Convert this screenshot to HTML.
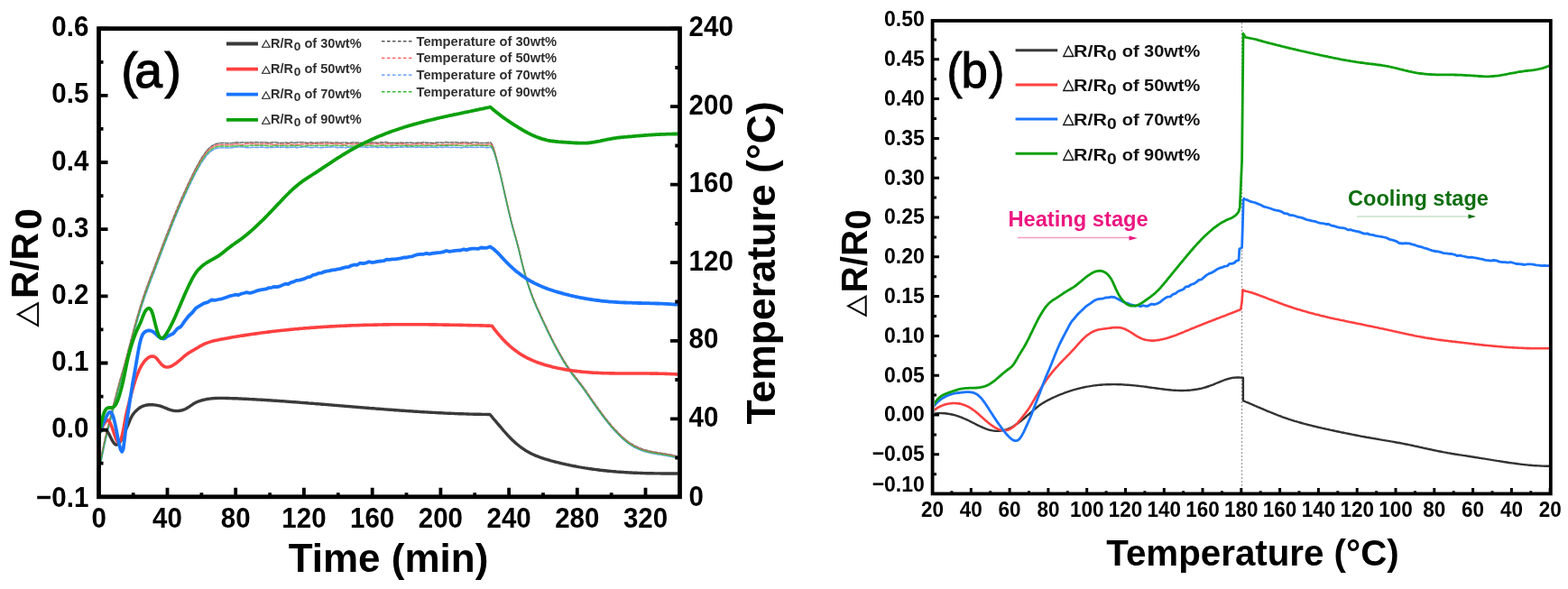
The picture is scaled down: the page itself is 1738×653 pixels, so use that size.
<!DOCTYPE html><html><head><meta charset="utf-8"><title>Figure</title><style>
html,body{margin:0;padding:0;background:#fff;width:1738px;height:653px;overflow:hidden}
svg{display:block}
text{font-family:"Liberation Sans", Arial, sans-serif}
.tri{font-family:"DejaVu Sans",sans-serif;font-weight:normal}
</style></head><body>
<svg width="1738" height="653" viewBox="0 0 1738 653">
<rect width="1738" height="653" fill="#fff"/>
<defs><clipPath id="ca"><rect x="109.5" y="34" width="641.5" height="514"/></clipPath><clipPath id="cb"><rect x="1036" y="25" width="681" height="520"/></clipPath></defs>
<g clip-path="url(#ca)" fill="none" stroke-linejoin="round" stroke-linecap="round">
<path d="M110.6,514.8 L112.1,506.8 L113.6,499.2 L115.1,492.1 L116.6,485.2 L118.1,478.7 L119.7,472.4 L121.2,466.4 L122.7,460.4 L124.2,454.5 L125.7,448.6 L127.2,442.8 L128.7,437.1 L130.2,431.4 L131.7,425.9 L133.2,420.5 L134.7,415.2 L136.3,409.9 L137.8,404.4 L139.3,398.9 L140.8,393.2 L142.3,387.5 L143.8,381.8 L145.3,376.0 L146.8,370.3 L148.3,364.7 L149.8,359.1 L151.3,353.7 L152.9,348.4 L154.4,343.3 L155.9,338.3 L157.4,333.6 L158.9,329.0 L160.4,324.6 L161.9,320.3 L163.4,316.2 L164.9,312.1 L166.4,308.1 L167.9,304.1 L169.5,300.1 L171.0,296.2 L172.5,292.2 L174.0,288.2 L175.5,284.2 L177.0,280.2 L178.5,276.3 L180.0,272.3 L181.5,268.4 L183.0,264.4 L184.5,260.5 L186.1,256.6 L187.6,252.8 L189.1,248.9 L190.6,245.1 L192.1,241.4 L193.6,237.7 L195.1,234.1 L196.6,230.4 L198.1,226.9 L199.6,223.4 L201.1,219.9 L202.7,216.5 L204.2,213.2 L205.7,209.9 L207.2,206.6 L208.7,203.4 L210.2,200.2 L211.7,197.1 L213.2,194.0 L214.7,191.0 L216.2,188.0 L217.7,185.1 L219.3,182.3 L220.8,179.6 L222.3,177.0 L223.8,174.6 L225.3,172.3 L226.8,170.1 L228.3,168.1 L229.8,166.3 L231.3,164.7 L232.8,163.3 L234.3,162.1 L235.9,161.1 L237.4,160.3 L238.9,159.7 L240.4,159.2 L241.9,158.9 L243.4,158.7 L244.9,158.6 L246.4,158.6 L247.9,158.6 L249.4,158.6 L250.9,158.7 L252.5,158.8 L254.0,158.8 L255.5,158.7 L257.0,158.6 L258.5,158.4 L260.0,158.1 L260.0,157.9 L263.0,157.8 L266.0,158.3 L269.0,157.7 L272.0,158.1 L275.0,158.0 L278.0,157.7 L281.0,158.1 L284.0,157.6 L287.0,158.0 L290.0,157.7 L293.0,157.7 L296.0,158.0 L299.0,158.4 L302.0,157.7 L305.0,157.8 L308.0,158.2 L311.0,158.5 L314.0,158.2 L317.0,158.0 L320.0,158.6 L323.0,157.6 L326.0,158.5 L329.0,157.9 L332.0,157.7 L335.0,157.7 L338.0,157.9 L341.0,158.4 L344.0,157.8 L347.0,158.2 L350.0,158.2 L353.0,158.0 L356.0,158.1 L359.0,157.7 L362.0,157.7 L365.0,157.8 L368.0,158.3 L371.0,158.0 L374.0,157.9 L377.0,158.2 L380.0,158.1 L383.0,157.9 L386.0,158.4 L389.0,158.3 L392.0,157.8 L395.0,158.2 L398.0,158.1 L401.0,158.5 L404.0,158.3 L407.0,157.9 L410.0,158.6 L413.0,157.7 L416.0,158.0 L419.0,158.4 L422.0,157.8 L425.0,158.1 L428.0,157.6 L431.0,158.3 L434.0,158.4 L437.0,158.2 L440.0,158.5 L443.0,157.9 L446.0,158.3 L449.0,158.2 L452.0,158.2 L455.0,158.1 L458.0,158.4 L461.0,158.5 L464.0,158.1 L467.0,158.3 L470.0,157.7 L473.0,158.3 L476.0,158.2 L479.0,158.6 L482.0,158.4 L485.0,157.9 L488.0,158.0 L491.0,158.3 L494.0,157.6 L497.0,158.1 L500.0,157.8 L503.0,157.7 L506.0,157.7 L509.0,158.4 L512.0,157.7 L515.0,157.8 L518.0,158.0 L521.0,158.5 L524.0,157.7 L527.0,158.0 L530.0,158.1 L533.0,158.5 L536.0,158.4 L539.0,158.5 L542.0,157.9 L544.0,158.1 L545.5,160.0 L547.0,163.8 L548.5,168.8 L550.0,174.3 L551.5,180.1 L553.0,186.2 L554.6,192.5 L556.1,199.0 L557.6,205.6 L559.1,212.3 L560.6,218.9 L562.1,225.5 L563.6,232.0 L565.1,238.3 L566.6,244.4 L568.1,250.2 L569.6,255.7 L571.1,260.9 L572.6,266.2 L574.1,271.9 L575.7,278.2 L577.2,284.6 L578.7,290.9 L580.2,296.8 L581.7,302.3 L583.2,307.5 L584.7,312.4 L586.2,317.0 L587.7,321.3 L589.2,325.5 L590.7,329.4 L592.2,333.2 L593.7,336.8 L595.2,340.3 L596.8,343.7 L598.3,347.0 L599.8,350.3 L601.3,353.5 L602.8,356.8 L604.3,360.0 L605.8,363.1 L607.3,366.3 L608.8,369.4 L610.3,372.4 L611.8,375.5 L613.3,378.4 L614.8,381.4 L616.3,384.2 L617.9,387.1 L619.4,389.8 L620.9,392.5 L622.4,395.1 L623.9,397.7 L625.4,400.2 L626.9,402.6 L628.4,404.9 L629.9,407.1 L631.4,409.3 L632.9,411.4 L634.4,413.4 L635.9,415.4 L637.4,417.3 L639.0,419.2 L640.5,421.2 L642.0,423.1 L643.5,425.1 L645.0,427.1 L646.5,429.1 L648.0,431.2 L649.5,433.3 L651.0,435.5 L652.5,437.7 L654.0,439.9 L655.5,442.1 L657.0,444.3 L658.6,446.4 L660.1,448.6 L661.6,450.7 L663.1,452.8 L664.6,454.8 L666.1,456.9 L667.6,458.9 L669.1,460.9 L670.6,462.8 L672.1,464.8 L673.6,466.6 L675.1,468.5 L676.6,470.3 L678.1,472.1 L679.7,473.8 L681.2,475.5 L682.7,477.1 L684.2,478.7 L685.7,480.3 L687.2,481.7 L688.7,483.2 L690.2,484.6 L691.7,485.9 L693.2,487.1 L694.7,488.3 L696.2,489.5 L697.7,490.6 L699.2,491.6 L700.8,492.5 L702.3,493.4 L703.8,494.2 L705.3,495.0 L706.8,495.7 L708.3,496.3 L709.8,496.9 L711.3,497.5 L712.8,498.0 L714.3,498.5 L715.8,498.9 L717.3,499.3 L718.8,499.7 L720.3,500.1 L721.9,500.4 L723.4,500.7 L724.9,501.0 L726.4,501.2 L727.9,501.5 L729.4,501.8 L730.9,502.0 L732.4,502.2 L733.9,502.5 L735.4,502.7 L736.9,502.9 L738.4,503.2 L739.9,503.5 L741.4,503.7 L743.0,504.0 L744.5,504.3 L746.0,504.7 L747.5,505.0 L749.0,505.4 L750.5,505.9 L752.0,506.3" stroke="#555555" stroke-width="1.5" stroke-dasharray="4,1.6" opacity="0.85"/>
<path d="M110.6,516.6 L112.1,508.6 L113.6,501.0 L115.1,493.9 L116.6,487.0 L118.1,480.5 L119.7,474.2 L121.2,468.2 L122.7,462.2 L124.2,456.3 L125.7,450.4 L127.2,444.6 L128.7,438.9 L130.2,433.2 L131.7,427.7 L133.2,422.3 L134.7,417.0 L136.3,411.7 L137.8,406.2 L139.3,400.7 L140.8,395.0 L142.3,389.3 L143.8,383.6 L145.3,377.8 L146.8,372.1 L148.3,366.5 L149.8,360.9 L151.3,355.5 L152.9,350.2 L154.4,345.1 L155.9,340.1 L157.4,335.4 L158.9,330.8 L160.4,326.4 L161.9,322.1 L163.4,318.0 L164.9,313.9 L166.4,309.9 L167.9,305.9 L169.5,301.9 L171.0,298.0 L172.5,294.0 L174.0,290.0 L175.5,286.0 L177.0,282.0 L178.5,278.1 L180.0,274.1 L181.5,270.2 L183.0,266.2 L184.5,262.3 L186.1,258.4 L187.6,254.6 L189.1,250.7 L190.6,246.9 L192.1,243.2 L193.6,239.5 L195.1,235.9 L196.6,232.2 L198.1,228.7 L199.6,225.2 L201.1,221.7 L202.7,218.3 L204.2,215.0 L205.7,211.7 L207.2,208.4 L208.7,205.2 L210.2,202.0 L211.7,198.9 L213.2,195.8 L214.7,192.8 L216.2,189.8 L217.7,186.9 L219.3,184.1 L220.8,181.4 L222.3,178.8 L223.8,176.4 L225.3,174.1 L226.8,171.9 L228.3,169.9 L229.8,168.1 L231.3,166.5 L232.8,165.1 L234.3,163.9 L235.9,162.9 L237.4,162.1 L238.9,161.5 L240.4,161.0 L241.9,160.7 L243.4,160.5 L244.9,160.4 L246.4,160.4 L247.9,160.4 L249.4,160.4 L250.9,160.5 L252.5,160.6 L254.0,160.6 L255.5,160.5 L257.0,160.4 L258.5,160.2 L260.0,159.9 L260.0,159.8 L263.0,159.8 L266.0,160.3 L269.0,160.4 L272.0,159.6 L275.0,159.6 L278.0,159.6 L281.0,159.6 L284.0,159.9 L287.0,160.0 L290.0,159.7 L293.0,159.4 L296.0,159.8 L299.0,159.8 L302.0,160.0 L305.0,160.4 L308.0,160.1 L311.0,159.9 L314.0,160.0 L317.0,160.1 L320.0,159.5 L323.0,160.3 L326.0,160.2 L329.0,160.3 L332.0,160.2 L335.0,159.8 L338.0,159.8 L341.0,159.5 L344.0,160.0 L347.0,159.5 L350.0,159.5 L353.0,159.6 L356.0,159.6 L359.0,159.7 L362.0,159.5 L365.0,159.4 L368.0,159.6 L371.0,159.5 L374.0,159.8 L377.0,159.4 L380.0,160.3 L383.0,160.0 L386.0,159.5 L389.0,159.7 L392.0,159.7 L395.0,159.8 L398.0,159.5 L401.0,160.2 L404.0,160.4 L407.0,159.9 L410.0,159.9 L413.0,159.5 L416.0,159.5 L419.0,159.7 L422.0,159.7 L425.0,160.2 L428.0,159.6 L431.0,159.4 L434.0,160.4 L437.0,159.9 L440.0,159.5 L443.0,159.9 L446.0,159.4 L449.0,159.9 L452.0,160.4 L455.0,160.3 L458.0,160.1 L461.0,159.7 L464.0,159.8 L467.0,159.6 L470.0,160.2 L473.0,159.9 L476.0,160.2 L479.0,159.7 L482.0,159.6 L485.0,160.2 L488.0,160.4 L491.0,160.3 L494.0,160.2 L497.0,160.2 L500.0,160.1 L503.0,159.6 L506.0,159.9 L509.0,159.8 L512.0,159.4 L515.0,159.4 L518.0,159.7 L521.0,159.7 L524.0,160.1 L527.0,160.4 L530.0,159.8 L533.0,160.3 L536.0,160.4 L539.0,160.4 L542.0,159.8 L544.0,159.9 L545.5,161.6 L547.0,165.2 L548.5,169.9 L550.0,175.2 L551.5,180.9 L553.0,186.9 L554.6,193.2 L556.1,199.7 L557.6,206.3 L559.1,213.0 L560.6,219.6 L562.1,226.2 L563.6,232.7 L565.1,239.0 L566.6,245.1 L568.1,250.9 L569.6,256.4 L571.1,261.7 L572.6,267.0 L574.1,272.7 L575.7,278.9 L577.2,285.3 L578.7,291.6 L580.2,297.5 L581.7,303.0 L583.2,308.2 L584.7,313.1 L586.2,317.7 L587.7,322.1 L589.2,326.2 L590.7,330.1 L592.2,333.9 L593.7,337.5 L595.2,341.0 L596.8,344.4 L598.3,347.7 L599.8,351.0 L601.3,354.2 L602.8,357.5 L604.3,360.7 L605.8,363.8 L607.3,367.0 L608.8,370.1 L610.3,373.2 L611.8,376.2 L613.3,379.2 L614.8,382.1 L616.3,385.0 L617.9,387.8 L619.4,390.5 L620.9,393.2 L622.4,395.9 L623.9,398.4 L625.4,400.9 L626.9,403.3 L628.4,405.6 L629.9,407.9 L631.4,410.0 L632.9,412.1 L634.4,414.1 L635.9,416.1 L637.4,418.0 L639.0,420.0 L640.5,421.9 L642.0,423.8 L643.5,425.8 L645.0,427.8 L646.5,429.8 L648.0,431.9 L649.5,434.1 L651.0,436.2 L652.5,438.4 L654.0,440.6 L655.5,442.8 L657.0,445.0 L658.6,447.1 L660.1,449.3 L661.6,451.4 L663.1,453.5 L664.6,455.6 L666.1,457.6 L667.6,459.6 L669.1,461.6 L670.6,463.6 L672.1,465.5 L673.6,467.4 L675.1,469.2 L676.6,471.0 L678.1,472.8 L679.7,474.5 L681.2,476.2 L682.7,477.8 L684.2,479.4 L685.7,481.0 L687.2,482.5 L688.7,483.9 L690.2,485.3 L691.7,486.6 L693.2,487.9 L694.7,489.1 L696.2,490.2 L697.7,491.3 L699.2,492.3 L700.8,493.2 L702.3,494.1 L703.8,494.9 L705.3,495.7 L706.8,496.4 L708.3,497.0 L709.8,497.6 L711.3,498.2 L712.8,498.7 L714.3,499.2 L715.8,499.6 L717.3,500.1 L718.8,500.4 L720.3,500.8 L721.9,501.1 L723.4,501.4 L724.9,501.7 L726.4,502.0 L727.9,502.2 L729.4,502.5 L730.9,502.7 L732.4,503.0 L733.9,503.2 L735.4,503.4 L736.9,503.7 L738.4,503.9 L739.9,504.2 L741.4,504.5 L743.0,504.8 L744.5,505.1 L746.0,505.4 L747.5,505.8 L749.0,506.2 L750.5,506.6 L752.0,507.0" stroke="#ff5555" stroke-width="1.5" stroke-dasharray="4,1.6" opacity="0.85"/>
<path d="M110.6,520.0 L112.1,512.0 L113.6,504.4 L115.1,497.3 L116.6,490.4 L118.1,483.9 L119.7,477.6 L121.2,471.6 L122.7,465.6 L124.2,459.7 L125.7,453.8 L127.2,448.0 L128.7,442.3 L130.2,436.6 L131.7,431.1 L133.2,425.7 L134.7,420.4 L136.3,415.1 L137.8,409.6 L139.3,404.1 L140.8,398.4 L142.3,392.7 L143.8,387.0 L145.3,381.2 L146.8,375.5 L148.3,369.9 L149.8,364.3 L151.3,358.9 L152.9,353.6 L154.4,348.5 L155.9,343.5 L157.4,338.8 L158.9,334.2 L160.4,329.8 L161.9,325.5 L163.4,321.4 L164.9,317.3 L166.4,313.3 L167.9,309.3 L169.5,305.3 L171.0,301.4 L172.5,297.4 L174.0,293.4 L175.5,289.4 L177.0,285.4 L178.5,281.5 L180.0,277.5 L181.5,273.6 L183.0,269.6 L184.5,265.7 L186.1,261.8 L187.6,258.0 L189.1,254.1 L190.6,250.3 L192.1,246.6 L193.6,242.9 L195.1,239.3 L196.6,235.6 L198.1,232.1 L199.6,228.6 L201.1,225.1 L202.7,221.7 L204.2,218.4 L205.7,215.1 L207.2,211.8 L208.7,208.6 L210.2,205.4 L211.7,202.3 L213.2,199.2 L214.7,196.2 L216.2,193.2 L217.7,190.3 L219.3,187.5 L220.8,184.8 L222.3,182.2 L223.8,179.8 L225.3,177.5 L226.8,175.3 L228.3,173.3 L229.8,171.5 L231.3,169.9 L232.8,168.5 L234.3,167.3 L235.9,166.3 L237.4,165.5 L238.9,164.9 L240.4,164.4 L241.9,164.1 L243.4,163.9 L244.9,163.8 L246.4,163.8 L247.9,163.8 L249.4,163.8 L250.9,163.9 L252.5,164.0 L254.0,164.0 L255.5,163.9 L257.0,163.8 L258.5,163.6 L260.0,163.3 L260.0,163.0 L263.0,163.0 L266.0,163.0 L269.0,163.0 L272.0,163.4 L275.0,163.7 L278.0,163.6 L281.0,163.3 L284.0,163.5 L287.0,163.6 L290.0,162.9 L293.0,163.5 L296.0,163.7 L299.0,163.6 L302.0,163.6 L305.0,163.3 L308.0,163.0 L311.0,163.6 L314.0,163.1 L317.0,163.6 L320.0,163.8 L323.0,163.2 L326.0,163.2 L329.0,163.7 L332.0,163.5 L335.0,163.0 L338.0,162.9 L341.0,163.0 L344.0,163.7 L347.0,163.6 L350.0,162.9 L353.0,163.6 L356.0,163.8 L359.0,163.5 L362.0,163.2 L365.0,163.3 L368.0,162.9 L371.0,162.8 L374.0,163.8 L377.0,163.4 L380.0,163.3 L383.0,163.7 L386.0,163.2 L389.0,163.7 L392.0,163.6 L395.0,163.0 L398.0,163.1 L401.0,163.1 L404.0,163.0 L407.0,163.4 L410.0,163.1 L413.0,163.2 L416.0,162.9 L419.0,163.7 L422.0,163.2 L425.0,163.3 L428.0,163.4 L431.0,163.7 L434.0,163.2 L437.0,163.7 L440.0,163.3 L443.0,163.3 L446.0,163.3 L449.0,162.8 L452.0,163.2 L455.0,163.0 L458.0,162.8 L461.0,163.6 L464.0,163.0 L467.0,163.3 L470.0,163.5 L473.0,163.4 L476.0,163.1 L479.0,163.3 L482.0,163.4 L485.0,163.6 L488.0,162.9 L491.0,163.4 L494.0,163.0 L497.0,163.1 L500.0,163.6 L503.0,163.3 L506.0,163.4 L509.0,163.6 L512.0,163.7 L515.0,163.2 L518.0,163.4 L521.0,163.3 L524.0,163.3 L527.0,163.5 L530.0,163.3 L533.0,163.3 L536.0,163.3 L539.0,163.7 L542.0,163.5 L544.0,163.3 L545.5,164.6 L547.0,167.7 L548.5,171.9 L550.0,176.9 L551.5,182.4 L553.0,188.3 L554.6,194.6 L556.1,201.1 L557.6,207.7 L559.1,214.3 L560.6,221.0 L562.1,227.6 L563.6,234.0 L565.1,240.3 L566.6,246.4 L568.1,252.3 L569.6,257.8 L571.1,263.1 L572.6,268.4 L574.1,274.1 L575.7,280.3 L577.2,286.7 L578.7,292.9 L580.2,298.8 L581.7,304.3 L583.2,309.5 L584.7,314.4 L586.2,319.1 L587.7,323.4 L589.2,327.6 L590.7,331.5 L592.2,335.3 L593.7,338.9 L595.2,342.4 L596.8,345.8 L598.3,349.1 L599.8,352.4 L601.3,355.6 L602.8,358.8 L604.3,362.0 L605.8,365.2 L607.3,368.3 L608.8,371.4 L610.3,374.5 L611.8,377.5 L613.3,380.5 L614.8,383.4 L616.3,386.3 L617.9,389.1 L619.4,391.9 L620.9,394.6 L622.4,397.2 L623.9,399.8 L625.4,402.3 L626.9,404.7 L628.4,407.0 L629.9,409.2 L631.4,411.4 L632.9,413.5 L634.4,415.5 L635.9,417.5 L637.4,419.4 L639.0,421.3 L640.5,423.3 L642.0,425.2 L643.5,427.1 L645.0,429.1 L646.5,431.2 L648.0,433.3 L649.5,435.4 L651.0,437.6 L652.5,439.8 L654.0,442.0 L655.5,444.2 L657.0,446.3 L658.6,448.5 L660.1,450.6 L661.6,452.8 L663.1,454.8 L664.6,456.9 L666.1,459.0 L667.6,461.0 L669.1,463.0 L670.6,464.9 L672.1,466.8 L673.6,468.7 L675.1,470.6 L676.6,472.4 L678.1,474.2 L679.7,475.9 L681.2,477.6 L682.7,479.2 L684.2,480.8 L685.7,482.3 L687.2,483.8 L688.7,485.3 L690.2,486.6 L691.7,488.0 L693.2,489.2 L694.7,490.4 L696.2,491.6 L697.7,492.6 L699.2,493.6 L700.8,494.6 L702.3,495.5 L703.8,496.3 L705.3,497.0 L706.8,497.7 L708.3,498.4 L709.8,499.0 L711.3,499.6 L712.8,500.1 L714.3,500.6 L715.8,501.0 L717.3,501.4 L718.8,501.8 L720.3,502.1 L721.9,502.5 L723.4,502.8 L724.9,503.1 L726.4,503.3 L727.9,503.6 L729.4,503.8 L730.9,504.1 L732.4,504.3 L733.9,504.5 L735.4,504.8 L736.9,505.0 L738.4,505.3 L739.9,505.5 L741.4,505.8 L743.0,506.1 L744.5,506.4 L746.0,506.8 L747.5,507.1 L749.0,507.5 L750.5,507.9 L752.0,508.4" stroke="#4d8cff" stroke-width="1.5" stroke-dasharray="4,1.6" opacity="0.85"/>
<path d="M110.6,518.3 L112.1,510.3 L113.6,502.7 L115.1,495.6 L116.6,488.7 L118.1,482.2 L119.7,475.9 L121.2,469.9 L122.7,463.9 L124.2,458.0 L125.7,452.1 L127.2,446.3 L128.7,440.6 L130.2,434.9 L131.7,429.4 L133.2,424.0 L134.7,418.7 L136.3,413.4 L137.8,407.9 L139.3,402.4 L140.8,396.7 L142.3,391.0 L143.8,385.3 L145.3,379.5 L146.8,373.8 L148.3,368.2 L149.8,362.6 L151.3,357.2 L152.9,351.9 L154.4,346.8 L155.9,341.8 L157.4,337.1 L158.9,332.5 L160.4,328.1 L161.9,323.8 L163.4,319.7 L164.9,315.6 L166.4,311.6 L167.9,307.6 L169.5,303.6 L171.0,299.7 L172.5,295.7 L174.0,291.7 L175.5,287.7 L177.0,283.7 L178.5,279.8 L180.0,275.8 L181.5,271.9 L183.0,267.9 L184.5,264.0 L186.1,260.1 L187.6,256.3 L189.1,252.4 L190.6,248.6 L192.1,244.9 L193.6,241.2 L195.1,237.6 L196.6,233.9 L198.1,230.4 L199.6,226.9 L201.1,223.4 L202.7,220.0 L204.2,216.7 L205.7,213.4 L207.2,210.1 L208.7,206.9 L210.2,203.7 L211.7,200.6 L213.2,197.5 L214.7,194.5 L216.2,191.5 L217.7,188.6 L219.3,185.8 L220.8,183.1 L222.3,180.5 L223.8,178.1 L225.3,175.8 L226.8,173.6 L228.3,171.6 L229.8,169.8 L231.3,168.2 L232.8,166.8 L234.3,165.6 L235.9,164.6 L237.4,163.8 L238.9,163.2 L240.4,162.7 L241.9,162.4 L243.4,162.2 L244.9,162.1 L246.4,162.1 L247.9,162.1 L249.4,162.1 L250.9,162.2 L252.5,162.3 L254.0,162.3 L255.5,162.2 L257.0,162.1 L258.5,161.9 L260.0,161.6 L260.0,162.0 L263.0,162.0 L266.0,161.4 L269.0,161.7 L272.0,162.0 L275.0,161.9 L278.0,161.2 L281.0,161.2 L284.0,161.5 L287.0,161.2 L290.0,161.3 L293.0,161.2 L296.0,161.8 L299.0,161.9 L302.0,162.0 L305.0,161.3 L308.0,161.8 L311.0,161.8 L314.0,161.2 L317.0,162.0 L320.0,162.1 L323.0,161.3 L326.0,162.1 L329.0,161.5 L332.0,161.6 L335.0,162.1 L338.0,161.9 L341.0,161.3 L344.0,161.5 L347.0,161.6 L350.0,161.4 L353.0,161.3 L356.0,161.4 L359.0,161.8 L362.0,161.1 L365.0,161.7 L368.0,161.5 L371.0,161.1 L374.0,161.4 L377.0,161.7 L380.0,161.6 L383.0,161.2 L386.0,162.1 L389.0,161.9 L392.0,162.1 L395.0,161.2 L398.0,161.4 L401.0,161.1 L404.0,161.9 L407.0,161.4 L410.0,161.2 L413.0,161.5 L416.0,162.0 L419.0,161.9 L422.0,161.4 L425.0,161.2 L428.0,162.0 L431.0,161.7 L434.0,161.8 L437.0,161.2 L440.0,161.2 L443.0,161.8 L446.0,161.5 L449.0,161.2 L452.0,162.0 L455.0,161.7 L458.0,161.9 L461.0,161.2 L464.0,162.0 L467.0,161.2 L470.0,162.0 L473.0,161.6 L476.0,161.4 L479.0,161.7 L482.0,162.0 L485.0,161.4 L488.0,161.2 L491.0,161.6 L494.0,161.3 L497.0,161.2 L500.0,161.3 L503.0,161.2 L506.0,161.3 L509.0,161.4 L512.0,161.4 L515.0,161.9 L518.0,161.4 L521.0,161.6 L524.0,161.3 L527.0,161.4 L530.0,161.1 L533.0,161.4 L536.0,161.1 L539.0,161.8 L542.0,161.7 L544.0,161.6 L545.5,163.1 L547.0,166.4 L548.5,170.9 L550.0,176.0 L551.5,181.6 L553.0,187.6 L554.6,193.9 L556.1,200.4 L557.6,207.0 L559.1,213.7 L560.6,220.3 L562.1,226.9 L563.6,233.4 L565.1,239.7 L566.6,245.8 L568.1,251.6 L569.6,257.1 L571.1,262.4 L572.6,267.7 L574.1,273.4 L575.7,279.6 L577.2,286.0 L578.7,292.3 L580.2,298.1 L581.7,303.7 L583.2,308.9 L584.7,313.8 L586.2,318.4 L587.7,322.8 L589.2,326.9 L590.7,330.8 L592.2,334.6 L593.7,338.2 L595.2,341.7 L596.8,345.1 L598.3,348.4 L599.8,351.7 L601.3,354.9 L602.8,358.1 L604.3,361.3 L605.8,364.5 L607.3,367.7 L608.8,370.8 L610.3,373.8 L611.8,376.9 L613.3,379.8 L614.8,382.8 L616.3,385.6 L617.9,388.5 L619.4,391.2 L620.9,393.9 L622.4,396.5 L623.9,399.1 L625.4,401.6 L626.9,404.0 L628.4,406.3 L629.9,408.6 L631.4,410.7 L632.9,412.8 L634.4,414.8 L635.9,416.8 L637.4,418.7 L639.0,420.7 L640.5,422.6 L642.0,424.5 L643.5,426.5 L645.0,428.5 L646.5,430.5 L648.0,432.6 L649.5,434.7 L651.0,436.9 L652.5,439.1 L654.0,441.3 L655.5,443.5 L657.0,445.7 L658.6,447.8 L660.1,450.0 L661.6,452.1 L663.1,454.2 L664.6,456.2 L666.1,458.3 L667.6,460.3 L669.1,462.3 L670.6,464.2 L672.1,466.2 L673.6,468.1 L675.1,469.9 L676.6,471.7 L678.1,473.5 L679.7,475.2 L681.2,476.9 L682.7,478.5 L684.2,480.1 L685.7,481.7 L687.2,483.1 L688.7,484.6 L690.2,486.0 L691.7,487.3 L693.2,488.5 L694.7,489.7 L696.2,490.9 L697.7,491.9 L699.2,493.0 L700.8,493.9 L702.3,494.8 L703.8,495.6 L705.3,496.4 L706.8,497.1 L708.3,497.7 L709.8,498.3 L711.3,498.9 L712.8,499.4 L714.3,499.9 L715.8,500.3 L717.3,500.7 L718.8,501.1 L720.3,501.5 L721.9,501.8 L723.4,502.1 L724.9,502.4 L726.4,502.6 L727.9,502.9 L729.4,503.2 L730.9,503.4 L732.4,503.6 L733.9,503.9 L735.4,504.1 L736.9,504.3 L738.4,504.6 L739.9,504.9 L741.4,505.1 L743.0,505.4 L744.5,505.7 L746.0,506.1 L747.5,506.4 L749.0,506.8 L750.5,507.3 L752.0,507.7" stroke="#33b833" stroke-width="1.5" stroke-dasharray="4,1.6" opacity="0.85"/>
<path d="M110.8,478.6 L112.3,477.7 L113.8,476.9 L115.3,476.4 L116.8,476.6 L118.3,477.6 L119.8,479.6 L121.3,482.2 L122.8,485.2 L124.3,488.2 L125.8,490.7 L127.3,492.4 L128.8,493.1 L130.3,492.9 L131.8,491.7 L133.3,489.7 L134.8,486.9 L136.3,483.7 L137.8,480.3 L139.3,476.9 L140.8,473.6 L142.3,470.1 L143.8,466.3 L145.3,463.0 L146.8,460.3 L148.3,458.2 L149.8,456.5 L151.3,455.0 L152.8,453.7 L154.3,452.5 L155.8,451.5 L157.3,450.7 L158.8,450.1 L160.3,449.6 L161.8,449.2 L163.3,449.0 L164.8,448.8 L166.3,448.7 L167.8,448.8 L169.3,448.8 L170.8,448.9 L172.3,449.1 L173.8,449.3 L175.3,449.6 L176.8,449.9 L178.3,450.4 L179.8,450.9 L181.3,451.5 L182.8,452.1 L184.3,452.7 L185.8,453.3 L187.3,453.9 L188.8,454.4 L190.3,454.8 L191.8,455.2 L193.3,455.4 L194.8,455.5 L196.3,455.6 L197.8,455.5 L199.3,455.3 L200.8,455.1 L202.3,454.6 L203.8,454.1 L205.3,453.5 L206.8,452.7 L208.3,451.8 L209.8,450.8 L211.3,449.8 L212.8,448.8 L214.3,447.8 L215.8,446.9 L217.3,446.1 L218.8,445.5 L220.4,444.9 L221.9,444.3 L223.4,443.9 L224.9,443.5 L226.4,443.1 L227.9,442.8 L229.4,442.5 L230.9,442.3 L232.4,442.1 L233.9,441.9 L235.4,441.7 L236.9,441.6 L238.4,441.5 L239.9,441.5 L241.4,441.4 L242.9,441.4 L244.4,441.4 L245.9,441.4 L247.4,441.4 L248.9,441.4 L250.4,441.5 L251.9,441.5 L253.4,441.5 L254.9,441.6 L256.4,441.6 L257.9,441.7 L259.4,441.7 L260.9,441.8 L262.4,441.8 L263.9,441.9 L265.4,442.0 L266.9,442.0 L268.4,442.1 L269.9,442.2 L271.4,442.2 L272.9,442.3 L274.4,442.4 L275.9,442.5 L277.4,442.6 L278.9,442.6 L280.4,442.7 L281.9,442.8 L283.4,442.9 L284.9,443.0 L286.4,443.1 L287.9,443.1 L289.4,443.2 L290.9,443.3 L292.4,443.4 L293.9,443.5 L295.4,443.6 L296.9,443.7 L298.4,443.8 L299.9,443.9 L301.4,444.0 L302.9,444.1 L304.4,444.2 L305.9,444.3 L307.4,444.4 L308.9,444.5 L310.4,444.6 L311.9,444.7 L313.4,444.8 L314.9,444.9 L316.4,445.0 L317.9,445.1 L319.4,445.2 L320.9,445.4 L322.4,445.5 L323.9,445.6 L325.4,445.7 L326.9,445.8 L328.4,445.9 L329.9,446.0 L331.4,446.1 L332.9,446.3 L334.4,446.4 L335.9,446.5 L337.4,446.6 L338.9,446.7 L340.4,446.8 L341.9,447.0 L343.4,447.1 L344.9,447.2 L346.4,447.3 L347.9,447.4 L349.4,447.6 L350.9,447.7 L352.4,447.8 L353.9,447.9 L355.4,448.0 L356.9,448.2 L358.4,448.3 L359.9,448.4 L361.4,448.5 L362.9,448.6 L364.4,448.8 L365.9,448.9 L367.4,449.0 L368.9,449.1 L370.4,449.3 L371.9,449.4 L373.4,449.5 L374.9,449.6 L376.4,449.8 L377.9,449.9 L379.4,450.0 L380.9,450.1 L382.4,450.3 L383.9,450.4 L385.4,450.5 L386.9,450.6 L388.4,450.7 L389.9,450.9 L391.4,451.0 L392.9,451.1 L394.4,451.2 L395.9,451.4 L397.4,451.5 L398.9,451.6 L400.4,451.7 L401.9,451.9 L403.4,452.0 L404.9,452.1 L406.4,452.2 L407.9,452.3 L409.4,452.5 L410.9,452.6 L412.4,452.7 L413.9,452.8 L415.4,452.9 L416.9,453.1 L418.4,453.2 L419.9,453.3 L421.4,453.4 L422.9,453.5 L424.4,453.6 L425.9,453.8 L427.4,453.9 L428.9,454.0 L430.4,454.1 L431.9,454.2 L433.4,454.3 L434.9,454.4 L436.5,454.5 L438.0,454.7 L439.5,454.8 L441.0,454.9 L442.5,455.0 L444.0,455.1 L445.5,455.2 L447.0,455.3 L448.5,455.4 L450.0,455.5 L451.5,455.6 L453.0,455.7 L454.5,455.8 L456.0,455.9 L457.5,456.0 L459.0,456.1 L460.5,456.2 L462.0,456.3 L463.5,456.4 L465.0,456.5 L466.5,456.6 L468.0,456.7 L469.5,456.8 L471.0,456.9 L472.5,456.9 L474.0,457.0 L475.5,457.1 L477.0,457.2 L478.5,457.3 L480.0,457.4 L481.5,457.4 L483.0,457.5 L484.5,457.6 L486.0,457.7 L487.5,457.8 L489.0,457.8 L490.5,457.9 L492.0,458.0 L493.5,458.1 L495.0,458.1 L496.5,458.2 L498.0,458.3 L499.5,458.3 L501.0,458.4 L502.5,458.4 L504.0,458.5 L505.5,458.6 L507.0,458.6 L508.5,458.7 L510.0,458.7 L511.5,458.8 L513.0,458.8 L514.5,458.9 L516.0,458.9 L517.5,459.0 L519.0,459.0 L520.5,459.1 L522.0,459.1 L523.5,459.1 L525.0,459.2 L526.5,459.2 L528.0,459.3 L529.5,459.3 L531.0,459.3 L532.5,459.3 L534.0,459.4 L535.5,459.4 L537.0,459.4 L538.5,459.4 L540.0,459.5 L541.5,459.5 L543.0,459.5 L543.0,459.5 L544.5,461.2 L546.0,463.0 L547.5,464.8 L549.0,466.5 L550.5,468.3 L552.0,470.2 L553.6,472.0 L555.1,473.7 L556.6,475.5 L558.1,477.3 L559.6,479.0 L561.1,480.7 L562.6,482.3 L564.1,483.9 L565.6,485.5 L567.1,487.0 L568.6,488.4 L570.1,489.9 L571.6,491.2 L573.1,492.5 L574.7,493.8 L576.2,495.0 L577.7,496.1 L579.2,497.2 L580.7,498.2 L582.2,499.2 L583.7,500.1 L585.2,500.9 L586.7,501.8 L588.2,502.6 L589.7,503.3 L591.2,504.0 L592.7,504.7 L594.2,505.3 L595.8,505.9 L597.3,506.5 L598.8,507.1 L600.3,507.6 L601.8,508.1 L603.3,508.6 L604.8,509.0 L606.3,509.5 L607.8,509.9 L609.3,510.3 L610.8,510.8 L612.3,511.2 L613.8,511.6 L615.3,512.0 L616.9,512.4 L618.4,512.7 L619.9,513.1 L621.4,513.5 L622.9,513.8 L624.4,514.2 L625.9,514.5 L627.4,514.9 L628.9,515.2 L630.4,515.5 L631.9,515.8 L633.4,516.1 L634.9,516.5 L636.4,516.7 L638.0,517.0 L639.5,517.3 L641.0,517.6 L642.5,517.9 L644.0,518.1 L645.5,518.4 L647.0,518.6 L648.5,518.9 L650.0,519.1 L651.5,519.3 L653.0,519.6 L654.5,519.8 L656.0,520.0 L657.6,520.2 L659.1,520.4 L660.6,520.6 L662.1,520.8 L663.6,521.0 L665.1,521.2 L666.6,521.4 L668.1,521.5 L669.6,521.7 L671.1,521.8 L672.6,522.0 L674.1,522.2 L675.6,522.3 L677.1,522.4 L678.7,522.6 L680.2,522.7 L681.7,522.8 L683.2,523.0 L684.7,523.1 L686.2,523.2 L687.7,523.3 L689.2,523.4 L690.7,523.5 L692.2,523.6 L693.7,523.7 L695.2,523.8 L696.7,523.9 L698.2,524.0 L699.8,524.0 L701.3,524.1 L702.8,524.2 L704.3,524.2 L705.8,524.3 L707.3,524.4 L708.8,524.4 L710.3,524.5 L711.8,524.5 L713.3,524.6 L714.8,524.6 L716.3,524.7 L717.8,524.7 L719.3,524.7 L720.9,524.8 L722.4,524.8 L723.9,524.8 L725.4,524.9 L726.9,524.9 L728.4,524.9 L729.9,524.9 L731.4,524.9 L732.9,525.0 L734.4,525.0 L735.9,525.0 L737.4,525.0 L738.9,525.0 L740.4,525.0 L742.0,525.0 L743.5,525.0 L745.0,525.0 L746.5,525.0 L748.0,525.0 L749.5,525.0 L751.0,525.0" stroke="#3a3a3a" stroke-width="3.4"/>
<path d="M110.8,478.6 L112.3,475.3 L113.8,472.5 L115.3,469.9 L116.8,467.7 L118.3,466.0 L119.8,465.8 L121.3,467.4 L122.8,470.4 L124.3,474.2 L125.8,478.6 L127.3,483.0 L128.8,487.0 L130.3,490.0 L131.8,490.8 L133.4,488.5 L134.9,484.4 L136.4,478.2 L137.9,470.0 L139.4,461.8 L140.9,455.0 L142.4,448.9 L143.9,443.0 L145.4,437.2 L146.9,431.7 L148.4,426.5 L149.9,421.6 L151.4,417.3 L152.9,413.4 L154.4,410.0 L155.9,407.0 L157.4,404.4 L158.9,402.2 L160.4,400.2 L161.9,398.6 L163.4,397.3 L164.9,396.2 L166.4,395.5 L167.9,395.1 L169.4,395.0 L170.9,395.3 L172.4,396.2 L173.9,397.7 L175.4,399.6 L177.0,401.6 L178.5,403.4 L180.0,404.9 L181.5,406.0 L183.0,406.7 L184.5,407.0 L186.0,407.0 L187.5,406.8 L189.0,406.3 L190.5,405.7 L192.0,404.8 L193.5,403.8 L195.0,402.8 L196.5,401.6 L198.0,400.3 L199.5,399.1 L201.0,397.8 L202.5,396.5 L204.0,395.2 L205.5,394.0 L207.0,392.8 L208.5,391.8 L210.0,390.8 L211.5,389.9 L213.0,389.0 L214.5,388.2 L216.0,387.3 L217.5,386.4 L219.0,385.5 L220.6,384.6 L222.1,383.6 L223.6,382.8 L225.1,382.0 L226.6,381.3 L228.1,380.7 L229.6,380.1 L231.1,379.6 L232.6,379.1 L234.1,378.6 L235.6,378.2 L237.1,377.8 L238.6,377.5 L240.1,377.2 L241.6,376.9 L243.1,376.6 L244.6,376.3 L246.1,376.0 L247.6,375.7 L249.1,375.4 L250.6,375.2 L252.1,374.9 L253.6,374.6 L255.1,374.4 L256.6,374.1 L258.1,373.8 L259.6,373.6 L261.1,373.3 L262.6,373.1 L264.2,372.8 L265.7,372.6 L267.2,372.3 L268.7,372.1 L270.2,371.9 L271.7,371.6 L273.2,371.4 L274.7,371.2 L276.2,370.9 L277.7,370.7 L279.2,370.5 L280.7,370.3 L282.2,370.1 L283.7,369.9 L285.2,369.7 L286.7,369.4 L288.2,369.2 L289.7,369.0 L291.2,368.8 L292.7,368.6 L294.2,368.5 L295.7,368.3 L297.2,368.1 L298.7,367.9 L300.2,367.7 L301.7,367.5 L303.2,367.3 L304.7,367.2 L306.2,367.0 L307.8,366.8 L309.3,366.7 L310.8,366.5 L312.3,366.3 L313.8,366.2 L315.3,366.0 L316.8,365.9 L318.3,365.7 L319.8,365.6 L321.3,365.4 L322.8,365.3 L324.3,365.1 L325.8,365.0 L327.3,364.8 L328.8,364.7 L330.3,364.6 L331.8,364.4 L333.3,364.3 L334.8,364.2 L336.3,364.0 L337.8,363.9 L339.3,363.8 L340.8,363.7 L342.3,363.6 L343.8,363.4 L345.3,363.3 L346.8,363.2 L348.3,363.1 L349.9,363.0 L351.4,362.9 L352.9,362.8 L354.4,362.7 L355.9,362.6 L357.4,362.5 L358.9,362.4 L360.4,362.3 L361.9,362.2 L363.4,362.1 L364.9,362.0 L366.4,361.9 L367.9,361.9 L369.4,361.8 L370.9,361.7 L372.4,361.6 L373.9,361.5 L375.4,361.5 L376.9,361.4 L378.4,361.3 L379.9,361.3 L381.4,361.2 L382.9,361.1 L384.4,361.1 L385.9,361.0 L387.4,360.9 L388.9,360.9 L390.4,360.8 L391.9,360.8 L393.5,360.7 L395.0,360.7 L396.5,360.6 L398.0,360.6 L399.5,360.5 L401.0,360.5 L402.5,360.4 L404.0,360.4 L405.5,360.3 L407.0,360.3 L408.5,360.3 L410.0,360.2 L411.5,360.2 L413.0,360.2 L414.5,360.1 L416.0,360.1 L417.5,360.1 L419.0,360.0 L420.5,360.0 L422.0,360.0 L423.5,360.0 L425.0,359.9 L426.5,359.9 L428.0,359.9 L429.5,359.9 L431.0,359.9 L432.5,359.8 L434.0,359.8 L435.5,359.8 L437.1,359.8 L438.6,359.8 L440.1,359.8 L441.6,359.8 L443.1,359.8 L444.6,359.8 L446.1,359.8 L447.6,359.7 L449.1,359.7 L450.6,359.7 L452.1,359.7 L453.6,359.7 L455.1,359.7 L456.6,359.7 L458.1,359.7 L459.6,359.8 L461.1,359.8 L462.6,359.8 L464.1,359.8 L465.6,359.8 L467.1,359.8 L468.6,359.8 L470.1,359.8 L471.6,359.8 L473.1,359.8 L474.6,359.8 L476.1,359.9 L477.6,359.9 L479.1,359.9 L480.7,359.9 L482.2,359.9 L483.7,359.9 L485.2,360.0 L486.7,360.0 L488.2,360.0 L489.7,360.0 L491.2,360.1 L492.7,360.1 L494.2,360.1 L495.7,360.1 L497.2,360.1 L498.7,360.2 L500.2,360.2 L501.7,360.2 L503.2,360.3 L504.7,360.3 L506.2,360.3 L507.7,360.3 L509.2,360.4 L510.7,360.4 L512.2,360.4 L513.7,360.5 L515.2,360.5 L516.7,360.5 L518.2,360.6 L519.7,360.6 L521.2,360.6 L522.7,360.7 L524.3,360.7 L525.8,360.7 L527.3,360.8 L528.8,360.8 L530.3,360.8 L531.8,360.9 L533.3,360.9 L534.8,360.9 L536.3,361.0 L537.8,361.0 L539.3,361.1 L540.8,361.1 L542.3,361.1 L543.8,361.2 L545.3,361.2 L545.3,361.2 L546.8,363.3 L548.3,365.3 L549.8,367.2 L551.3,369.1 L552.8,370.9 L554.3,372.6 L555.8,374.3 L557.3,376.0 L558.8,377.5 L560.3,379.1 L561.8,380.5 L563.3,381.9 L564.8,383.3 L566.3,384.6 L567.8,385.8 L569.3,387.1 L570.8,388.2 L572.3,389.3 L573.8,390.4 L575.3,391.4 L576.8,392.4 L578.3,393.4 L579.8,394.3 L581.3,395.1 L582.8,396.0 L584.3,396.8 L585.8,397.5 L587.3,398.2 L588.8,398.9 L590.3,399.6 L591.8,400.2 L593.3,400.9 L594.8,401.4 L596.3,402.0 L597.9,402.5 L599.4,403.0 L600.9,403.5 L602.4,404.0 L603.9,404.5 L605.4,404.9 L606.9,405.3 L608.4,405.7 L609.9,406.1 L611.4,406.5 L612.9,406.9 L614.4,407.2 L615.9,407.6 L617.4,407.9 L618.9,408.2 L620.4,408.5 L621.9,408.8 L623.4,409.1 L624.9,409.4 L626.4,409.6 L627.9,409.9 L629.4,410.1 L630.9,410.4 L632.4,410.6 L633.9,410.8 L635.4,411.0 L636.9,411.2 L638.4,411.4 L639.9,411.6 L641.4,411.8 L642.9,411.9 L644.4,412.1 L645.9,412.2 L647.4,412.4 L648.9,412.5 L650.4,412.6 L651.9,412.8 L653.4,412.9 L654.9,413.0 L656.4,413.1 L657.9,413.2 L659.4,413.2 L660.9,413.3 L662.4,413.4 L663.9,413.5 L665.4,413.5 L666.9,413.6 L668.4,413.7 L669.9,413.7 L671.4,413.7 L672.9,413.8 L674.4,413.8 L675.9,413.9 L677.4,413.9 L678.9,413.9 L680.4,413.9 L681.9,414.0 L683.4,414.0 L684.9,414.0 L686.4,414.0 L687.9,414.0 L689.4,414.0 L690.9,414.0 L692.4,414.0 L693.9,414.0 L695.4,414.0 L696.9,414.0 L698.4,414.0 L700.0,414.0 L701.5,414.0 L703.0,414.0 L704.5,414.0 L706.0,414.0 L707.5,414.0 L709.0,414.0 L710.5,414.0 L712.0,414.0 L713.5,414.0 L715.0,414.0 L716.5,414.0 L718.0,414.0 L719.5,414.0 L721.0,414.1 L722.5,414.1 L724.0,414.1 L725.5,414.1 L727.0,414.1 L728.5,414.1 L730.0,414.2 L731.5,414.2 L733.0,414.2 L734.5,414.3 L736.0,414.3 L737.5,414.4 L739.0,414.4 L740.5,414.5 L742.0,414.5 L743.5,414.6 L745.0,414.7 L746.5,414.7 L748.0,414.8 L749.5,414.9 L751.0,415.0" stroke="#ff4040" stroke-width="3.6"/>
<path d="M110.8,478.6 L112.3,474.5 L113.8,470.9 L115.4,467.5 L116.9,464.3 L118.4,461.0 L119.9,458.3 L121.4,456.8 L122.9,457.1 L124.5,459.3 L126.0,463.5 L127.5,469.6 L129.0,476.9 L130.5,484.9 L132.1,492.4 L133.6,498.2 L135.1,500.8 L136.6,498.1 L138.1,486.7 L139.7,473.1 L141.2,462.7 L142.7,452.9 L144.2,442.9 L145.7,433.2 L147.2,424.1 L148.8,415.4 L150.3,406.8 L151.8,397.9 L153.3,389.2 L154.8,381.3 L156.4,375.1 L157.9,371.2 L159.4,369.1 L160.9,367.8 L162.4,367.0 L164.0,366.5 L165.5,366.4 L167.0,366.6 L168.5,367.2 L170.0,368.0 L171.5,369.2 L173.1,370.6 L174.6,372.1 L176.1,373.5 L177.6,374.5 L179.1,375.2 L180.7,375.5 L182.2,375.3 L183.7,374.4 L183.7,373.9 L187.9,371.7 L192.1,369.7 L196.3,364.6 L200.6,362.0 L204.8,355.9 L209.0,350.5 L213.2,346.5 L217.4,341.3 L221.6,338.8 L225.8,336.3 L230.1,335.2 L234.3,332.5 L238.2,332.8 L242.0,332.0 L245.9,331.3 L249.0,330.2 L252.0,329.3 L255.1,328.1 L258.1,327.5 L261.2,326.6 L264.3,327.1 L267.3,325.7 L270.4,325.0 L273.4,324.2 L276.5,324.8 L279.6,324.3 L282.7,323.3 L285.7,322.1 L288.8,321.4 L291.9,320.9 L295.0,320.4 L298.0,319.1 L301.1,318.8 L304.1,317.8 L307.2,318.1 L310.3,317.4 L313.3,315.9 L316.4,314.7 L319.4,315.0 L322.5,313.2 L325.6,312.4 L328.6,310.9 L331.7,310.6 L334.7,309.8 L337.8,308.9 L340.9,307.4 L343.9,306.8 L347.0,304.9 L350.0,304.3 L353.1,302.9 L356.2,302.7 L359.2,301.3 L362.3,300.6 L365.3,300.2 L368.4,299.4 L371.5,299.2 L374.5,298.3 L377.6,297.9 L380.6,296.9 L383.7,296.2 L386.8,295.8 L389.8,294.3 L392.9,293.5 L395.9,293.8 L399.0,291.7 L402.3,292.2 L405.6,291.6 L408.9,290.2 L412.1,291.0 L415.4,290.7 L418.7,289.8 L422.0,289.5 L425.3,289.2 L428.5,287.6 L431.6,287.8 L434.8,287.3 L438.0,287.3 L441.1,286.8 L444.3,286.4 L447.4,285.5 L450.6,285.5 L453.8,284.7 L456.9,284.3 L460.1,283.0 L463.2,282.2 L466.4,281.9 L469.6,281.8 L472.7,280.9 L475.9,281.6 L479.1,280.8 L482.2,280.5 L485.4,280.1 L488.6,279.8 L491.8,279.1 L494.9,278.0 L498.1,278.9 L501.3,278.4 L504.5,277.8 L507.6,277.6 L510.8,277.5 L514.0,276.3 L517.1,277.1 L520.3,276.1 L523.4,275.6 L526.6,275.6 L529.9,275.9 L533.2,274.5 L536.4,274.9 L539.7,274.8 L543.0,273.5 L543.0,273.5 L544.5,274.3 L546.0,275.3 L547.5,276.5 L549.0,277.8 L550.5,279.2 L552.0,280.7 L553.6,282.3 L555.1,283.9 L556.6,285.6 L558.1,287.2 L559.6,288.8 L561.1,290.4 L562.6,291.9 L564.1,293.4 L565.6,294.8 L567.1,296.2 L568.6,297.6 L570.1,298.9 L571.6,300.2 L573.1,301.4 L574.7,302.6 L576.2,303.8 L577.7,304.9 L579.2,306.0 L580.7,307.0 L582.2,308.0 L583.7,309.0 L585.2,309.9 L586.7,310.8 L588.2,311.7 L589.7,312.5 L591.2,313.3 L592.7,314.1 L594.2,314.8 L595.8,315.5 L597.3,316.2 L598.8,316.9 L600.3,317.6 L601.8,318.2 L603.3,318.8 L604.8,319.4 L606.3,319.9 L607.8,320.5 L609.3,321.0 L610.8,321.5 L612.3,322.0 L613.8,322.5 L615.3,323.0 L616.9,323.4 L618.4,323.9 L619.9,324.3 L621.4,324.7 L622.9,325.1 L624.4,325.6 L625.9,326.0 L627.4,326.4 L628.9,326.7 L630.4,327.1 L631.9,327.5 L633.4,327.8 L634.9,328.2 L636.4,328.5 L638.0,328.9 L639.5,329.2 L641.0,329.5 L642.5,329.8 L644.0,330.1 L645.5,330.4 L647.0,330.7 L648.5,331.0 L650.0,331.2 L651.5,331.5 L653.0,331.7 L654.5,332.0 L656.0,332.2 L657.6,332.4 L659.1,332.6 L660.6,332.8 L662.1,333.0 L663.6,333.2 L665.1,333.4 L666.6,333.6 L668.1,333.8 L669.6,333.9 L671.1,334.1 L672.6,334.2 L674.1,334.3 L675.6,334.5 L677.1,334.6 L678.7,334.7 L680.2,334.8 L681.7,334.9 L683.2,335.0 L684.7,335.1 L686.2,335.2 L687.7,335.3 L689.2,335.3 L690.7,335.4 L692.2,335.5 L693.7,335.5 L695.2,335.6 L696.7,335.6 L698.2,335.7 L699.8,335.7 L701.3,335.8 L702.8,335.8 L704.3,335.9 L705.8,335.9 L707.3,336.0 L708.8,336.0 L710.3,336.0 L711.8,336.1 L713.3,336.1 L714.8,336.1 L716.3,336.2 L717.8,336.2 L719.3,336.2 L720.9,336.3 L722.4,336.3 L723.9,336.4 L725.4,336.4 L726.9,336.5 L728.4,336.5 L729.9,336.5 L731.4,336.6 L732.9,336.7 L734.4,336.7 L735.9,336.8 L737.4,336.9 L738.9,336.9 L740.4,337.0 L742.0,337.1 L743.5,337.2 L745.0,337.3 L746.5,337.4 L748.0,337.5 L749.5,337.6 L751.0,337.7" stroke="#1a75ff" stroke-width="3.8"/>
<path d="M110.8,478.6 L112.3,469.3 L113.8,462.5 L115.3,457.7 L116.8,454.6 L118.3,452.9 L119.8,452.1 L121.3,452.0 L122.8,452.0 L124.3,451.9 L125.8,451.2 L127.3,449.9 L128.8,447.6 L130.3,444.3 L131.8,440.1 L133.3,435.1 L134.8,429.5 L136.3,423.2 L137.8,416.3 L139.3,408.8 L140.8,401.6 L142.3,395.1 L143.8,389.2 L145.3,383.9 L146.8,379.1 L148.4,374.7 L149.9,370.7 L151.4,366.9 L152.9,363.6 L154.4,360.5 L155.9,357.2 L157.4,353.4 L158.9,349.5 L160.4,346.1 L161.9,343.7 L163.4,342.3 L164.9,341.7 L166.4,342.3 L167.9,344.4 L169.4,348.5 L170.9,354.2 L172.4,360.4 L173.9,366.1 L175.4,370.7 L176.9,373.6 L178.4,374.9 L179.9,374.9 L181.4,373.9 L182.9,372.1 L184.4,370.0 L185.9,367.6 L187.4,365.0 L188.9,362.2 L190.4,359.2 L191.9,356.1 L193.4,352.9 L194.9,349.5 L196.4,346.1 L197.9,342.6 L199.4,339.1 L200.9,335.6 L202.4,332.1 L203.9,328.6 L205.4,325.1 L206.9,321.8 L208.4,318.5 L209.9,315.3 L211.4,312.3 L212.9,309.4 L214.4,306.7 L215.9,304.3 L217.4,302.0 L218.9,300.1 L220.5,298.3 L222.0,296.8 L223.5,295.4 L225.0,294.1 L226.5,293.0 L228.0,292.0 L229.5,291.0 L231.0,290.1 L232.5,289.3 L234.0,288.4 L235.5,287.6 L237.0,286.8 L238.5,285.9 L240.0,285.0 L241.5,284.1 L243.0,283.1 L244.5,282.0 L246.0,280.9 L247.5,279.7 L249.0,278.5 L250.5,277.3 L252.0,276.1 L253.5,274.9 L255.0,273.7 L256.5,272.6 L258.0,271.5 L259.5,270.5 L261.0,269.4 L262.5,268.4 L264.0,267.4 L265.5,266.3 L267.0,265.2 L268.5,264.1 L270.0,262.9 L271.5,261.8 L273.0,260.6 L274.5,259.3 L276.0,258.0 L277.5,256.8 L279.0,255.4 L280.5,254.1 L282.0,252.7 L283.5,251.3 L285.0,249.9 L286.5,248.5 L288.0,247.0 L289.5,245.6 L291.1,244.1 L292.6,242.6 L294.1,241.1 L295.6,239.5 L297.1,238.0 L298.6,236.4 L300.1,234.9 L301.6,233.3 L303.1,231.7 L304.6,230.1 L306.1,228.5 L307.6,226.9 L309.1,225.3 L310.6,223.8 L312.1,222.2 L313.6,220.6 L315.1,219.0 L316.6,217.5 L318.1,216.0 L319.6,214.5 L321.1,213.0 L322.6,211.6 L324.1,210.2 L325.6,208.8 L327.1,207.5 L328.6,206.2 L330.1,205.0 L331.6,203.8 L333.1,202.6 L334.6,201.5 L336.1,200.4 L337.6,199.4 L339.1,198.4 L340.6,197.4 L342.1,196.4 L343.6,195.5 L345.1,194.5 L346.6,193.5 L348.1,192.5 L349.6,191.6 L351.1,190.6 L352.6,189.6 L354.1,188.6 L355.6,187.6 L357.1,186.6 L358.6,185.6 L360.1,184.6 L361.6,183.6 L363.1,182.6 L364.7,181.6 L366.2,180.6 L367.7,179.6 L369.2,178.6 L370.7,177.6 L372.2,176.7 L373.7,175.7 L375.2,174.7 L376.7,173.8 L378.2,172.8 L379.7,171.9 L381.2,171.0 L382.7,170.1 L384.2,169.2 L385.7,168.3 L387.2,167.4 L388.7,166.5 L390.2,165.7 L391.7,164.8 L393.2,164.0 L394.7,163.2 L396.2,162.4 L397.7,161.6 L399.2,160.8 L400.7,160.1 L402.2,159.3 L403.7,158.6 L405.2,157.8 L406.7,157.1 L408.2,156.4 L409.7,155.7 L411.2,155.0 L412.7,154.3 L414.2,153.7 L415.7,153.0 L417.2,152.3 L418.7,151.7 L420.2,151.1 L421.7,150.5 L423.2,149.9 L424.7,149.3 L426.2,148.7 L427.7,148.1 L429.2,147.5 L430.7,146.9 L432.2,146.4 L433.7,145.8 L435.2,145.3 L436.8,144.8 L438.3,144.3 L439.8,143.7 L441.3,143.2 L442.8,142.7 L444.3,142.2 L445.8,141.8 L447.3,141.3 L448.8,140.8 L450.3,140.3 L451.8,139.9 L453.3,139.4 L454.8,139.0 L456.3,138.6 L457.8,138.1 L459.3,137.7 L460.8,137.3 L462.3,136.9 L463.8,136.5 L465.3,136.1 L466.8,135.7 L468.3,135.3 L469.8,134.9 L471.3,134.5 L472.8,134.1 L474.3,133.7 L475.8,133.4 L477.3,133.0 L478.8,132.6 L480.3,132.3 L481.8,131.9 L483.3,131.6 L484.8,131.2 L486.3,130.9 L487.8,130.5 L489.3,130.2 L490.8,129.9 L492.3,129.5 L493.8,129.2 L495.3,128.9 L496.8,128.5 L498.3,128.2 L499.8,127.9 L501.3,127.6 L502.8,127.2 L504.3,126.9 L505.8,126.6 L507.3,126.3 L508.9,126.0 L510.4,125.7 L511.9,125.3 L513.4,125.0 L514.9,124.7 L516.4,124.4 L517.9,124.1 L519.4,123.8 L520.9,123.5 L522.4,123.1 L523.9,122.8 L525.4,122.5 L526.9,122.2 L528.4,121.9 L529.9,121.6 L531.4,121.2 L532.9,120.9 L534.4,120.6 L535.9,120.3 L537.4,119.9 L538.9,119.6 L540.4,119.3 L541.9,119.0 L543.4,118.6 L543.4,118.6 L544.9,119.9 L546.4,121.2 L547.9,122.5 L549.4,123.7 L550.9,124.9 L552.4,126.1 L553.9,127.3 L555.4,128.4 L556.9,129.6 L558.4,130.6 L559.9,131.7 L561.5,132.8 L563.0,133.8 L564.5,134.8 L566.0,135.8 L567.5,136.8 L569.0,137.8 L570.5,138.8 L572.0,139.7 L573.5,140.7 L575.0,141.6 L576.5,142.5 L578.0,143.4 L579.5,144.3 L581.0,145.1 L582.5,146.0 L584.0,146.8 L585.5,147.6 L587.0,148.3 L588.5,149.1 L590.0,149.8 L591.5,150.5 L593.0,151.1 L594.5,151.8 L596.1,152.3 L597.6,152.9 L599.1,153.4 L600.6,153.9 L602.1,154.3 L603.6,154.7 L605.1,155.1 L606.6,155.5 L608.1,155.8 L609.6,156.0 L611.1,156.3 L612.6,156.5 L614.1,156.7 L615.6,156.9 L617.1,157.0 L618.6,157.2 L620.1,157.3 L621.6,157.4 L623.1,157.5 L624.6,157.6 L626.1,157.7 L627.6,157.8 L629.1,157.9 L630.7,158.0 L632.2,158.1 L633.7,158.2 L635.2,158.3 L636.7,158.4 L638.2,158.5 L639.7,158.5 L641.2,158.6 L642.7,158.6 L644.2,158.7 L645.7,158.7 L647.2,158.7 L648.7,158.7 L650.2,158.6 L651.7,158.5 L653.2,158.4 L654.7,158.2 L656.2,158.0 L657.7,157.7 L659.2,157.5 L660.7,157.2 L662.2,156.9 L663.7,156.6 L665.3,156.3 L666.8,155.9 L668.3,155.6 L669.8,155.3 L671.3,155.0 L672.8,154.7 L674.3,154.3 L675.8,154.1 L677.3,153.8 L678.8,153.5 L680.3,153.3 L681.8,153.1 L683.3,152.9 L684.8,152.7 L686.3,152.5 L687.8,152.4 L689.3,152.2 L690.8,152.1 L692.3,151.9 L693.8,151.8 L695.3,151.7 L696.8,151.5 L698.3,151.4 L699.9,151.3 L701.4,151.1 L702.9,151.0 L704.4,150.9 L705.9,150.7 L707.4,150.6 L708.9,150.5 L710.4,150.4 L711.9,150.3 L713.4,150.1 L714.9,150.0 L716.4,149.9 L717.9,149.8 L719.4,149.7 L720.9,149.6 L722.4,149.5 L723.9,149.4 L725.4,149.3 L726.9,149.2 L728.4,149.2 L729.9,149.1 L731.4,149.0 L732.9,148.9 L734.5,148.9 L736.0,148.8 L737.5,148.8 L739.0,148.7 L740.5,148.7 L742.0,148.6 L743.5,148.6 L745.0,148.6 L746.5,148.5 L748.0,148.5 L749.5,148.5 L751.0,148.5" stroke="#0ca00c" stroke-width="3.8"/>
</g>
<g stroke="#000" fill="none">
<rect x="109.5" y="31.7" width="644" height="519.1" stroke-width="4.8"/>
<path d="M147.7,550.8 V546.3 M185.5,550.8 V540.8 M223.4,550.8 V546.3 M261.2,550.8 V540.8 M299.1,550.8 V546.3 M336.9,550.8 V540.8 M374.8,550.8 V546.3 M412.7,550.8 V540.8 M450.5,550.8 V546.3 M488.4,550.8 V540.8 M526.2,550.8 V546.3 M564.1,550.8 V540.8 M602.0,550.8 V546.3 M639.8,550.8 V540.8 M677.7,550.8 V546.3 M715.5,550.8 V540.8 M109.5,550.8 H119.5 M109.5,513.7 H114.5 M109.5,476.6 H119.5 M109.5,439.6 H114.5 M109.5,402.5 H119.5 M109.5,365.4 H114.5 M109.5,328.3 H119.5 M109.5,291.2 H114.5 M109.5,254.2 H119.5 M109.5,217.1 H114.5 M109.5,180.0 H119.5 M109.5,142.9 H114.5 M109.5,105.9 H119.5 M109.5,68.8 H114.5 M109.5,31.7 H119.5 M753.5,550.8 H743.0 M753.5,507.5 H748.3 M753.5,464.3 H743.0 M753.5,421.0 H748.3 M753.5,377.8 H743.0 M753.5,334.5 H748.3 M753.5,291.2 H743.0 M753.5,248.0 H748.3 M753.5,204.7 H743.0 M753.5,161.5 H748.3 M753.5,118.2 H743.0 M753.5,75.0 H748.3 M753.5,31.7 H743.0" stroke-width="3.8"/>
</g>
<text transform="translate(98.30,40.30) scale(1.000,1.070)" font-size="29.5" font-weight="bold" text-anchor="end" fill="#000" >0.6</text>
<text transform="translate(98.30,114.46) scale(1.000,1.070)" font-size="29.5" font-weight="bold" text-anchor="end" fill="#000" >0.5</text>
<text transform="translate(98.30,188.61) scale(1.000,1.070)" font-size="29.5" font-weight="bold" text-anchor="end" fill="#000" >0.4</text>
<text transform="translate(98.30,262.77) scale(1.000,1.070)" font-size="29.5" font-weight="bold" text-anchor="end" fill="#000" >0.3</text>
<text transform="translate(98.30,336.93) scale(1.000,1.070)" font-size="29.5" font-weight="bold" text-anchor="end" fill="#000" >0.2</text>
<text transform="translate(98.30,411.09) scale(1.000,1.070)" font-size="29.5" font-weight="bold" text-anchor="end" fill="#000" >0.1</text>
<text transform="translate(98.30,485.24) scale(1.000,1.070)" font-size="29.5" font-weight="bold" text-anchor="end" fill="#000" >0.0</text>
<text transform="translate(98.30,562.20) scale(1.000,1.070)" font-size="29.5" font-weight="bold" text-anchor="end" fill="#000" >−0.1</text>
<text transform="translate(763.60,561.40) scale(1.000,1.070)" font-size="29.5" font-weight="bold" text-anchor="start" fill="#000" >0</text>
<text transform="translate(763.60,472.88) scale(1.000,1.070)" font-size="29.5" font-weight="bold" text-anchor="start" fill="#000" >40</text>
<text transform="translate(763.60,386.37) scale(1.000,1.070)" font-size="29.5" font-weight="bold" text-anchor="start" fill="#000" >80</text>
<text transform="translate(763.60,299.85) scale(1.000,1.070)" font-size="29.5" font-weight="bold" text-anchor="start" fill="#000" >120</text>
<text transform="translate(763.60,213.33) scale(1.000,1.070)" font-size="29.5" font-weight="bold" text-anchor="start" fill="#000" >160</text>
<text transform="translate(763.60,126.82) scale(1.000,1.070)" font-size="29.5" font-weight="bold" text-anchor="start" fill="#000" >200</text>
<text transform="translate(763.60,40.30) scale(1.000,1.070)" font-size="29.5" font-weight="bold" text-anchor="start" fill="#000" >240</text>
<text transform="translate(109.80,584.80) scale(1.000,1.070)" font-size="29.5" font-weight="bold" text-anchor="middle" fill="#000" >0</text>
<text transform="translate(185.52,584.80) scale(1.000,1.070)" font-size="29.5" font-weight="bold" text-anchor="middle" fill="#000" >40</text>
<text transform="translate(261.23,584.80) scale(1.000,1.070)" font-size="29.5" font-weight="bold" text-anchor="middle" fill="#000" >80</text>
<text transform="translate(336.95,584.80) scale(1.000,1.070)" font-size="29.5" font-weight="bold" text-anchor="middle" fill="#000" >120</text>
<text transform="translate(412.66,584.80) scale(1.000,1.070)" font-size="29.5" font-weight="bold" text-anchor="middle" fill="#000" >160</text>
<text transform="translate(488.38,584.80) scale(1.000,1.070)" font-size="29.5" font-weight="bold" text-anchor="middle" fill="#000" >200</text>
<text transform="translate(564.10,584.80) scale(1.000,1.070)" font-size="29.5" font-weight="bold" text-anchor="middle" fill="#000" >240</text>
<text transform="translate(639.81,584.80) scale(1.000,1.070)" font-size="29.5" font-weight="bold" text-anchor="middle" fill="#000" >280</text>
<text transform="translate(715.53,584.80) scale(1.000,1.070)" font-size="29.5" font-weight="bold" text-anchor="middle" fill="#000" >320</text>
<text transform="translate(430.50,634.00)" font-size="44" font-weight="bold" text-anchor="middle" fill="#000" >Time (min)</text>
<g transform="translate(41.7,362.3) rotate(-90)">
<text class="tri" transform="translate(-0.10,-3.00) scale(1.000,0.895)" font-size="36.2" font-weight="bold" text-anchor="start" fill="#000" stroke="#000" stroke-width="0.4">△</text>
<text transform="translate(31.30,0.00)" font-size="42.5" font-weight="bold" text-anchor="start" fill="#000" >R/R</text>
<text transform="translate(107.60,4.65)" font-size="42.5" font-weight="bold" text-anchor="start" fill="#000" >0</text>
</g>
<text transform="translate(859,470.5) rotate(-90)" font-size="44.5" font-weight="bold" fill="#000">Temperature (°C)</text>
<text transform="translate(134.20,97.40) scale(0.970,0.975)" font-size="57" font-weight="normal" text-anchor="start" fill="#000" stroke="#000" stroke-width="1.25">(<tspan dx="-3.5">a</tspan><tspan dx="2.5">)</tspan></text>
<line x1="251" y1="48.5" x2="286" y2="48.5" stroke="#3a3a3a" stroke-width="3.8"/>
<text class="tri" transform="translate(289.90,51.40) scale(1.000,0.860)" font-size="12.7" font-weight="bold" text-anchor="start" fill="#303030" stroke="#303030" stroke-width="0.5">△</text>
<text transform="translate(300.00,52.70)" font-size="14.5" font-weight="bold" text-anchor="start" fill="#303030" >R/R</text>
<text transform="translate(325.80,55.70) scale(1.100,1.000)" font-size="12.5" font-weight="bold" text-anchor="start" fill="#303030" >0</text>
<text transform="translate(337.40,52.70)" font-size="14.6" font-weight="bold" text-anchor="start" fill="#303030" >of 30wt%</text>
<line x1="251" y1="76.6" x2="286" y2="76.6" stroke="#ff4040" stroke-width="3.8"/>
<text class="tri" transform="translate(289.90,79.50) scale(1.000,0.860)" font-size="12.7" font-weight="bold" text-anchor="start" fill="#303030" stroke="#303030" stroke-width="0.5">△</text>
<text transform="translate(300.00,80.80)" font-size="14.5" font-weight="bold" text-anchor="start" fill="#303030" >R/R</text>
<text transform="translate(325.80,83.80) scale(1.100,1.000)" font-size="12.5" font-weight="bold" text-anchor="start" fill="#303030" >0</text>
<text transform="translate(337.40,80.80)" font-size="14.6" font-weight="bold" text-anchor="start" fill="#303030" >of 50wt%</text>
<line x1="251" y1="104.7" x2="286" y2="104.7" stroke="#1a75ff" stroke-width="3.8"/>
<text class="tri" transform="translate(289.90,107.60) scale(1.000,0.860)" font-size="12.7" font-weight="bold" text-anchor="start" fill="#303030" stroke="#303030" stroke-width="0.5">△</text>
<text transform="translate(300.00,108.90)" font-size="14.5" font-weight="bold" text-anchor="start" fill="#303030" >R/R</text>
<text transform="translate(325.80,111.90) scale(1.100,1.000)" font-size="12.5" font-weight="bold" text-anchor="start" fill="#303030" >0</text>
<text transform="translate(337.40,108.90)" font-size="14.6" font-weight="bold" text-anchor="start" fill="#303030" >of 70wt%</text>
<line x1="251" y1="132.8" x2="286" y2="132.8" stroke="#0ca00c" stroke-width="3.8"/>
<text class="tri" transform="translate(289.90,135.70) scale(1.000,0.860)" font-size="12.7" font-weight="bold" text-anchor="start" fill="#303030" stroke="#303030" stroke-width="0.5">△</text>
<text transform="translate(300.00,137.00)" font-size="14.5" font-weight="bold" text-anchor="start" fill="#303030" >R/R</text>
<text transform="translate(325.80,140.00) scale(1.100,1.000)" font-size="12.5" font-weight="bold" text-anchor="start" fill="#303030" >0</text>
<text transform="translate(337.40,137.00)" font-size="14.6" font-weight="bold" text-anchor="start" fill="#303030" >of 90wt%</text>
<line x1="423" y1="45.8" x2="457.5" y2="45.8" stroke="#555" stroke-width="1.4" stroke-dasharray="3.5,2.5"/>
<text transform="translate(461.50,50.70)" font-size="14.7" font-weight="bold" text-anchor="start" fill="#303030" >Temperature of 30wt%</text>
<line x1="423" y1="64.4" x2="457.5" y2="64.4" stroke="#ff5555" stroke-width="1.4" stroke-dasharray="3.5,2.5"/>
<text transform="translate(461.50,69.35)" font-size="14.7" font-weight="bold" text-anchor="start" fill="#303030" >Temperature of 50wt%</text>
<line x1="423" y1="83.1" x2="457.5" y2="83.1" stroke="#4d8cff" stroke-width="1.4" stroke-dasharray="3.5,2.5"/>
<text transform="translate(461.50,88.00)" font-size="14.7" font-weight="bold" text-anchor="start" fill="#303030" >Temperature of 70wt%</text>
<line x1="423" y1="101.8" x2="457.5" y2="101.8" stroke="#33b833" stroke-width="1.4" stroke-dasharray="3.5,2.5"/>
<text transform="translate(461.50,106.65)" font-size="14.7" font-weight="bold" text-anchor="start" fill="#303030" >Temperature of 90wt%</text>
<line x1="1376.5" y1="25" x2="1376.5" y2="545" stroke="#999" stroke-width="1.2" stroke-dasharray="2,2"/>
<g clip-path="url(#cb)" fill="none" stroke-linejoin="round" stroke-linecap="round">
<path d="M1035.5,458.6 L1037.0,458.4 L1038.5,458.3 L1040.0,458.2 L1041.5,458.1 L1043.0,458.1 L1044.5,458.1 L1046.0,458.2 L1047.5,458.3 L1049.0,458.5 L1050.5,458.7 L1052.0,458.9 L1053.5,459.2 L1055.0,459.5 L1056.5,459.8 L1058.0,460.2 L1059.5,460.7 L1061.0,461.1 L1062.5,461.6 L1064.0,462.2 L1065.5,462.7 L1067.0,463.3 L1068.5,464.0 L1070.1,464.6 L1071.6,465.3 L1073.1,466.0 L1074.6,466.8 L1076.1,467.5 L1077.6,468.3 L1079.1,469.0 L1080.6,469.8 L1082.1,470.6 L1083.6,471.3 L1085.1,472.0 L1086.6,472.8 L1088.1,473.4 L1089.6,474.1 L1091.1,474.7 L1092.6,475.3 L1094.1,475.8 L1095.6,476.3 L1097.1,476.8 L1098.6,477.1 L1100.1,477.4 L1101.6,477.6 L1103.1,477.8 L1104.6,477.9 L1106.1,477.9 L1107.6,477.8 L1109.1,477.6 L1110.6,477.4 L1112.1,477.1 L1113.6,476.7 L1115.1,476.3 L1116.6,475.8 L1118.1,475.2 L1119.6,474.5 L1121.1,473.8 L1122.6,473.0 L1124.1,472.1 L1125.6,471.1 L1127.1,470.1 L1128.6,469.0 L1130.1,467.9 L1131.6,466.7 L1133.1,465.5 L1134.6,464.2 L1136.1,463.0 L1137.6,461.6 L1139.2,460.3 L1140.7,459.0 L1142.2,457.6 L1143.7,456.3 L1145.2,455.0 L1146.7,453.7 L1148.2,452.5 L1149.7,451.3 L1151.2,450.1 L1152.7,449.0 L1154.2,448.0 L1155.7,447.0 L1157.2,446.1 L1158.7,445.2 L1160.2,444.4 L1161.7,443.6 L1163.2,442.8 L1164.7,442.1 L1166.2,441.3 L1167.7,440.6 L1169.2,440.0 L1170.7,439.3 L1172.2,438.7 L1173.7,438.0 L1175.2,437.4 L1176.7,436.8 L1178.2,436.3 L1179.7,435.7 L1181.2,435.1 L1182.7,434.6 L1184.2,434.1 L1185.7,433.6 L1187.2,433.1 L1188.7,432.7 L1190.2,432.2 L1191.7,431.8 L1193.2,431.4 L1194.7,431.0 L1196.2,430.6 L1197.7,430.2 L1199.2,429.9 L1200.7,429.5 L1202.2,429.2 L1203.7,428.9 L1205.2,428.6 L1206.8,428.4 L1208.3,428.1 L1209.8,427.9 L1211.3,427.6 L1212.8,427.4 L1214.3,427.3 L1215.8,427.1 L1217.3,426.9 L1218.8,426.8 L1220.3,426.7 L1221.8,426.5 L1223.3,426.4 L1224.8,426.4 L1226.3,426.3 L1227.8,426.2 L1229.3,426.2 L1230.8,426.2 L1232.3,426.1 L1233.8,426.1 L1235.3,426.1 L1236.8,426.1 L1238.3,426.2 L1239.8,426.2 L1241.3,426.3 L1242.8,426.3 L1244.3,426.4 L1245.8,426.5 L1247.3,426.6 L1248.8,426.7 L1250.3,426.8 L1251.8,426.9 L1253.3,427.0 L1254.8,427.1 L1256.3,427.3 L1257.8,427.4 L1259.3,427.6 L1260.8,427.7 L1262.3,427.9 L1263.8,428.1 L1265.3,428.3 L1266.8,428.4 L1268.3,428.6 L1269.8,428.8 L1271.3,429.0 L1272.8,429.3 L1274.4,429.5 L1275.9,429.7 L1277.4,429.9 L1278.9,430.1 L1280.4,430.3 L1281.9,430.5 L1283.4,430.7 L1284.9,430.9 L1286.4,431.1 L1287.9,431.3 L1289.4,431.5 L1290.9,431.7 L1292.4,431.9 L1293.9,432.0 L1295.4,432.2 L1296.9,432.3 L1298.4,432.5 L1299.9,432.6 L1301.4,432.7 L1302.9,432.8 L1304.4,432.9 L1305.9,432.9 L1307.4,433.0 L1308.9,433.0 L1310.4,433.0 L1311.9,433.0 L1313.4,432.9 L1314.9,432.9 L1316.4,432.8 L1317.9,432.7 L1319.4,432.6 L1320.9,432.4 L1322.4,432.2 L1323.9,432.0 L1325.4,431.8 L1326.9,431.6 L1328.4,431.3 L1329.9,431.0 L1331.4,430.7 L1332.9,430.3 L1334.4,429.9 L1335.9,429.5 L1337.4,429.0 L1338.9,428.5 L1340.4,428.0 L1341.9,427.4 L1343.5,426.9 L1345.0,426.3 L1346.5,425.6 L1348.0,425.0 L1349.5,424.4 L1351.0,423.8 L1352.5,423.2 L1354.0,422.6 L1355.5,422.0 L1357.0,421.4 L1358.5,420.9 L1360.0,420.4 L1361.5,420.0 L1363.0,419.6 L1364.5,419.2 L1366.0,418.9 L1367.5,418.7 L1369.0,418.6 L1370.5,418.5 L1372.0,418.5 L1373.5,418.5 L1375.0,418.6 L1376.5,418.8 L1377.9,418.8 L1377.9,444.2 L1377.9,444.2 L1379.4,444.8 L1380.9,445.5 L1382.4,446.1 L1383.9,446.7 L1385.4,447.4 L1386.9,448.0 L1388.4,448.7 L1389.9,449.3 L1391.4,450.0 L1392.9,450.6 L1394.5,451.3 L1396.0,451.9 L1397.5,452.6 L1399.0,453.2 L1400.5,453.9 L1402.0,454.5 L1403.5,455.2 L1405.0,455.8 L1406.5,456.4 L1408.0,457.0 L1409.5,457.6 L1411.0,458.2 L1412.5,458.8 L1414.0,459.4 L1415.5,460.0 L1417.0,460.6 L1418.5,461.1 L1420.0,461.7 L1421.5,462.3 L1423.0,462.8 L1424.6,463.3 L1426.1,463.8 L1427.6,464.4 L1429.1,464.9 L1430.6,465.3 L1432.1,465.8 L1433.6,466.3 L1435.1,466.8 L1436.6,467.2 L1438.1,467.7 L1439.6,468.1 L1441.1,468.5 L1442.6,469.0 L1444.1,469.4 L1445.6,469.8 L1447.1,470.2 L1448.6,470.6 L1450.1,471.0 L1451.6,471.3 L1453.1,471.7 L1454.6,472.1 L1456.2,472.5 L1457.7,472.8 L1459.2,473.2 L1460.7,473.5 L1462.2,473.9 L1463.7,474.2 L1465.2,474.6 L1466.7,474.9 L1468.2,475.2 L1469.7,475.6 L1471.2,475.9 L1472.7,476.2 L1474.2,476.6 L1475.7,476.9 L1477.2,477.2 L1478.7,477.5 L1480.2,477.9 L1481.7,478.2 L1483.2,478.5 L1484.7,478.8 L1486.3,479.2 L1487.8,479.5 L1489.3,479.8 L1490.8,480.1 L1492.3,480.4 L1493.8,480.7 L1495.3,481.0 L1496.8,481.3 L1498.3,481.6 L1499.8,481.9 L1501.3,482.2 L1502.8,482.5 L1504.3,482.8 L1505.8,483.1 L1507.3,483.4 L1508.8,483.7 L1510.3,483.9 L1511.8,484.2 L1513.3,484.5 L1514.8,484.8 L1516.3,485.0 L1517.9,485.3 L1519.4,485.6 L1520.9,485.8 L1522.4,486.1 L1523.9,486.3 L1525.4,486.6 L1526.9,486.8 L1528.4,487.1 L1529.9,487.4 L1531.4,487.6 L1532.9,487.9 L1534.4,488.1 L1535.9,488.4 L1537.4,488.6 L1538.9,488.9 L1540.4,489.1 L1541.9,489.4 L1543.4,489.6 L1544.9,489.9 L1546.4,490.2 L1548.0,490.5 L1549.5,490.7 L1551.0,491.0 L1552.5,491.3 L1554.0,491.6 L1555.5,491.9 L1557.0,492.2 L1558.5,492.5 L1560.0,492.8 L1561.5,493.1 L1563.0,493.4 L1564.5,493.7 L1566.0,494.0 L1567.5,494.4 L1569.0,494.7 L1570.5,495.0 L1572.0,495.3 L1573.5,495.7 L1575.0,496.0 L1576.5,496.3 L1578.0,496.7 L1579.6,497.0 L1581.1,497.3 L1582.6,497.7 L1584.1,498.0 L1585.6,498.3 L1587.1,498.6 L1588.6,499.0 L1590.1,499.3 L1591.6,499.6 L1593.1,499.9 L1594.6,500.2 L1596.1,500.5 L1597.6,500.8 L1599.1,501.1 L1600.6,501.4 L1602.1,501.6 L1603.6,501.9 L1605.1,502.2 L1606.6,502.4 L1608.1,502.7 L1609.6,503.0 L1611.2,503.2 L1612.7,503.5 L1614.2,503.7 L1615.7,503.9 L1617.2,504.2 L1618.7,504.4 L1620.2,504.6 L1621.7,504.9 L1623.2,505.1 L1624.7,505.3 L1626.2,505.6 L1627.7,505.8 L1629.2,506.0 L1630.7,506.3 L1632.2,506.5 L1633.7,506.7 L1635.2,507.0 L1636.7,507.2 L1638.2,507.4 L1639.7,507.7 L1641.3,507.9 L1642.8,508.2 L1644.3,508.4 L1645.8,508.6 L1647.3,508.9 L1648.8,509.1 L1650.3,509.4 L1651.8,509.6 L1653.3,509.9 L1654.8,510.1 L1656.3,510.4 L1657.8,510.6 L1659.3,510.9 L1660.8,511.1 L1662.3,511.3 L1663.8,511.6 L1665.3,511.8 L1666.8,512.1 L1668.3,512.3 L1669.8,512.5 L1671.3,512.7 L1672.9,513.0 L1674.4,513.2 L1675.9,513.4 L1677.4,513.6 L1678.9,513.8 L1680.4,514.0 L1681.9,514.2 L1683.4,514.4 L1684.9,514.6 L1686.4,514.8 L1687.9,514.9 L1689.4,515.1 L1690.9,515.3 L1692.4,515.4 L1693.9,515.6 L1695.4,515.7 L1696.9,515.8 L1698.4,516.0 L1699.9,516.1 L1701.4,516.2 L1703.0,516.3 L1704.5,516.4 L1706.0,516.4 L1707.5,516.5 L1709.0,516.6 L1710.5,516.6 L1712.0,516.7 L1713.5,516.7 L1715.0,516.7 L1716.5,516.7 L1718.0,516.7" stroke="#333" stroke-width="2.4"/>
<path d="M1035.5,454.6 L1037.0,453.6 L1038.5,452.6 L1040.0,451.7 L1041.5,450.9 L1043.0,450.2 L1044.5,449.6 L1046.0,449.0 L1047.5,448.5 L1049.0,448.1 L1050.5,447.7 L1052.0,447.5 L1053.5,447.3 L1055.0,447.1 L1056.5,447.0 L1058.0,447.0 L1059.5,447.1 L1061.1,447.2 L1062.6,447.4 L1064.1,447.6 L1065.6,448.0 L1067.1,448.4 L1068.6,448.9 L1070.1,449.5 L1071.6,450.1 L1073.1,450.9 L1074.6,451.7 L1076.1,452.6 L1077.6,453.6 L1079.1,454.7 L1080.6,455.8 L1082.1,457.0 L1083.6,458.3 L1085.1,459.6 L1086.6,460.9 L1088.1,462.2 L1089.6,463.6 L1091.1,464.9 L1092.6,466.2 L1094.1,467.5 L1095.6,468.8 L1097.1,470.0 L1098.6,471.1 L1100.1,472.2 L1101.6,473.2 L1103.1,474.1 L1104.6,474.9 L1106.1,475.7 L1107.6,476.3 L1109.2,476.7 L1110.7,477.0 L1112.2,477.2 L1113.7,477.2 L1115.2,477.1 L1116.7,476.7 L1118.2,476.2 L1119.7,475.5 L1121.2,474.7 L1122.7,473.6 L1124.2,472.4 L1125.7,471.1 L1127.2,469.6 L1128.7,467.9 L1130.2,466.1 L1131.7,464.3 L1133.2,462.4 L1134.7,460.5 L1136.2,458.6 L1137.7,456.6 L1139.2,454.6 L1140.7,452.4 L1142.2,450.0 L1143.7,447.5 L1145.2,444.9 L1146.7,442.3 L1148.2,439.7 L1149.7,437.1 L1151.2,434.5 L1152.7,432.1 L1154.2,429.6 L1155.7,427.3 L1157.3,425.0 L1158.8,422.8 L1160.3,420.6 L1161.8,418.5 L1163.3,416.5 L1164.8,414.6 L1166.3,412.7 L1167.8,410.9 L1169.3,409.1 L1170.8,407.4 L1172.3,405.8 L1173.8,404.1 L1175.3,402.5 L1176.8,401.0 L1178.3,399.4 L1179.8,397.9 L1181.3,396.4 L1182.8,394.8 L1184.3,393.3 L1185.8,391.8 L1187.3,390.2 L1188.8,388.6 L1190.3,387.0 L1191.8,385.3 L1193.3,383.6 L1194.8,381.9 L1196.3,380.2 L1197.8,378.6 L1199.3,377.0 L1200.8,375.5 L1202.3,374.1 L1203.8,372.8 L1205.3,371.6 L1206.9,370.5 L1208.4,369.4 L1209.9,368.5 L1211.4,367.7 L1212.9,367.0 L1214.4,366.5 L1215.9,366.0 L1217.4,365.6 L1218.9,365.2 L1220.4,365.0 L1221.9,364.7 L1223.4,364.5 L1224.9,364.4 L1226.4,364.2 L1227.9,364.0 L1229.4,363.8 L1230.9,363.6 L1232.4,363.4 L1233.9,363.3 L1235.4,363.1 L1236.9,363.1 L1238.4,363.0 L1239.9,363.1 L1241.4,363.2 L1242.9,363.5 L1244.4,363.9 L1245.9,364.4 L1247.4,365.0 L1248.9,365.8 L1250.4,366.6 L1251.9,367.5 L1253.4,368.4 L1255.0,369.4 L1256.5,370.4 L1258.0,371.4 L1259.5,372.3 L1261.0,373.2 L1262.5,374.0 L1264.0,374.8 L1265.5,375.4 L1267.0,376.0 L1268.5,376.4 L1270.0,376.8 L1271.5,377.1 L1273.0,377.3 L1274.5,377.5 L1276.0,377.6 L1277.5,377.6 L1279.0,377.6 L1280.5,377.5 L1282.0,377.3 L1283.5,377.1 L1285.0,376.9 L1286.5,376.6 L1288.0,376.3 L1289.5,376.0 L1291.0,375.6 L1292.5,375.2 L1294.0,374.7 L1295.5,374.3 L1297.0,373.8 L1298.5,373.3 L1300.0,372.8 L1301.5,372.2 L1303.1,371.7 L1304.6,371.1 L1306.1,370.5 L1307.6,369.9 L1309.1,369.3 L1310.6,368.7 L1312.1,368.1 L1313.6,367.4 L1315.1,366.8 L1316.6,366.2 L1318.1,365.6 L1319.6,364.9 L1321.1,364.3 L1322.6,363.7 L1324.1,363.1 L1325.6,362.5 L1327.1,361.9 L1328.6,361.3 L1330.1,360.7 L1331.6,360.1 L1333.1,359.5 L1334.6,358.9 L1336.1,358.3 L1337.6,357.7 L1339.1,357.1 L1340.6,356.5 L1342.1,356.0 L1343.6,355.4 L1345.1,354.8 L1346.6,354.2 L1348.1,353.6 L1349.6,353.1 L1351.2,352.5 L1352.7,351.9 L1354.2,351.3 L1355.7,350.7 L1357.2,350.2 L1358.7,349.6 L1360.2,349.0 L1361.7,348.4 L1363.2,347.8 L1364.7,347.3 L1366.2,346.7 L1367.7,346.1 L1369.2,345.5 L1370.7,344.9 L1372.2,344.3 L1373.7,343.7 L1375.2,343.1 L1375.2,343.1 L1376.5,335.0 L1377.5,321.4 L1380.0,322.5 L1380.0,322.5 L1381.5,322.9 L1383.0,323.3 L1384.5,323.7 L1386.0,324.1 L1387.5,324.6 L1389.0,325.1 L1390.5,325.6 L1392.0,326.1 L1393.5,326.6 L1395.0,327.1 L1396.5,327.7 L1398.0,328.2 L1399.5,328.8 L1401.0,329.3 L1402.5,329.9 L1404.0,330.5 L1405.5,331.1 L1407.0,331.7 L1408.5,332.2 L1410.0,332.8 L1411.5,333.4 L1413.0,334.0 L1414.6,334.6 L1416.1,335.1 L1417.6,335.7 L1419.1,336.3 L1420.6,336.8 L1422.1,337.4 L1423.6,337.9 L1425.1,338.4 L1426.6,339.0 L1428.1,339.5 L1429.6,340.0 L1431.1,340.5 L1432.6,341.0 L1434.1,341.5 L1435.6,341.9 L1437.1,342.4 L1438.6,342.9 L1440.1,343.3 L1441.6,343.8 L1443.1,344.2 L1444.6,344.7 L1446.1,345.1 L1447.6,345.5 L1449.1,345.9 L1450.6,346.4 L1452.1,346.8 L1453.6,347.2 L1455.1,347.6 L1456.6,348.0 L1458.1,348.4 L1459.6,348.7 L1461.1,349.1 L1462.6,349.5 L1464.1,349.9 L1465.6,350.2 L1467.1,350.6 L1468.6,351.0 L1470.1,351.3 L1471.6,351.7 L1473.1,352.0 L1474.6,352.4 L1476.1,352.7 L1477.6,353.0 L1479.1,353.4 L1480.6,353.7 L1482.2,354.0 L1483.7,354.3 L1485.2,354.7 L1486.7,355.0 L1488.2,355.3 L1489.7,355.6 L1491.2,355.9 L1492.7,356.3 L1494.2,356.6 L1495.7,356.9 L1497.2,357.2 L1498.7,357.5 L1500.2,357.8 L1501.7,358.1 L1503.2,358.4 L1504.7,358.7 L1506.2,359.0 L1507.7,359.3 L1509.2,359.6 L1510.7,359.9 L1512.2,360.2 L1513.7,360.6 L1515.2,360.9 L1516.7,361.2 L1518.2,361.5 L1519.7,361.8 L1521.2,362.1 L1522.7,362.4 L1524.2,362.7 L1525.7,363.0 L1527.2,363.3 L1528.7,363.7 L1530.2,364.0 L1531.7,364.3 L1533.2,364.6 L1534.7,364.9 L1536.2,365.3 L1537.7,365.6 L1539.2,365.9 L1540.7,366.3 L1542.2,366.6 L1543.7,366.9 L1545.2,367.3 L1546.7,367.6 L1548.2,367.9 L1549.8,368.3 L1551.3,368.6 L1552.8,368.9 L1554.3,369.3 L1555.8,369.6 L1557.3,369.9 L1558.8,370.3 L1560.3,370.6 L1561.8,370.9 L1563.3,371.2 L1564.8,371.5 L1566.3,371.8 L1567.8,372.2 L1569.3,372.5 L1570.8,372.8 L1572.3,373.0 L1573.8,373.3 L1575.3,373.6 L1576.8,373.9 L1578.3,374.1 L1579.8,374.4 L1581.3,374.7 L1582.8,374.9 L1584.3,375.1 L1585.8,375.4 L1587.3,375.6 L1588.8,375.8 L1590.3,376.0 L1591.8,376.3 L1593.3,376.5 L1594.8,376.7 L1596.3,376.9 L1597.8,377.1 L1599.3,377.3 L1600.8,377.5 L1602.3,377.7 L1603.8,377.8 L1605.3,378.0 L1606.8,378.2 L1608.3,378.4 L1609.8,378.6 L1611.3,378.7 L1612.8,378.9 L1614.3,379.1 L1615.8,379.3 L1617.4,379.5 L1618.9,379.6 L1620.4,379.8 L1621.9,380.0 L1623.4,380.2 L1624.9,380.3 L1626.4,380.5 L1627.9,380.7 L1629.4,380.9 L1630.9,381.0 L1632.4,381.2 L1633.9,381.4 L1635.4,381.6 L1636.9,381.7 L1638.4,381.9 L1639.9,382.1 L1641.4,382.2 L1642.9,382.4 L1644.4,382.6 L1645.9,382.7 L1647.4,382.9 L1648.9,383.0 L1650.4,383.2 L1651.9,383.3 L1653.4,383.5 L1654.9,383.6 L1656.4,383.8 L1657.9,383.9 L1659.4,384.0 L1660.9,384.2 L1662.4,384.3 L1663.9,384.4 L1665.4,384.5 L1666.9,384.7 L1668.4,384.8 L1669.9,384.9 L1671.4,385.0 L1672.9,385.1 L1674.4,385.2 L1675.9,385.3 L1677.4,385.4 L1678.9,385.5 L1680.4,385.5 L1681.9,385.6 L1683.4,385.7 L1685.0,385.8 L1686.5,385.8 L1688.0,385.9 L1689.5,386.0 L1691.0,386.0 L1692.5,386.1 L1694.0,386.1 L1695.5,386.1 L1697.0,386.2 L1698.5,386.2 L1700.0,386.2 L1701.5,386.3 L1703.0,386.3 L1704.5,386.3 L1706.0,386.3 L1707.5,386.3 L1709.0,386.3 L1710.5,386.3 L1712.0,386.3 L1713.5,386.3 L1715.0,386.3 L1716.5,386.2 L1718.0,386.2" stroke="#ff4040" stroke-width="2.6"/>
<path d="M1035.5,449.7 L1037.0,448.0 L1038.5,446.5 L1040.0,445.1 L1041.5,443.8 L1043.0,442.7 L1044.5,441.6 L1046.0,440.7 L1047.5,439.9 L1049.0,439.1 L1050.5,438.5 L1052.0,437.9 L1053.5,437.4 L1055.0,436.9 L1056.5,436.5 L1058.0,436.2 L1059.5,435.9 L1061.0,435.7 L1062.5,435.5 L1064.0,435.3 L1065.5,435.1 L1067.0,435.0 L1068.5,434.8 L1070.0,434.7 L1071.5,434.6 L1073.0,434.6 L1074.5,434.6 L1076.0,434.8 L1077.5,435.0 L1079.0,435.4 L1080.5,436.0 L1082.0,436.7 L1083.5,437.7 L1085.0,438.9 L1086.5,440.3 L1088.0,441.9 L1089.5,443.8 L1091.0,445.8 L1092.5,448.0 L1094.0,450.2 L1095.5,452.6 L1097.0,454.9 L1098.5,457.3 L1100.0,459.6 L1101.5,461.9 L1103.0,464.1 L1104.5,466.4 L1106.0,468.6 L1107.5,470.7 L1109.0,472.8 L1110.5,474.8 L1112.0,476.8 L1113.5,478.7 L1115.0,480.6 L1116.5,482.3 L1118.0,483.9 L1119.5,485.3 L1121.0,486.6 L1122.5,487.7 L1124.0,488.4 L1125.5,488.7 L1127.0,488.6 L1128.5,487.9 L1130.0,486.6 L1131.5,484.6 L1133.0,482.2 L1134.5,479.3 L1136.0,476.2 L1137.5,472.9 L1139.0,469.6 L1140.5,466.2 L1142.0,462.7 L1143.5,459.1 L1145.0,455.2 L1146.5,451.2 L1148.0,447.3 L1149.5,443.4 L1151.0,439.6 L1152.5,435.8 L1154.0,431.8 L1155.5,427.8 L1157.0,423.8 L1158.5,419.9 L1160.0,416.3 L1161.5,412.7 L1163.0,409.2 L1164.5,405.7 L1166.0,402.0 L1167.5,398.3 L1169.0,394.5 L1170.5,390.8 L1172.0,387.2 L1173.5,383.8 L1175.0,380.5 L1176.5,377.5 L1178.0,374.5 L1179.5,371.6 L1181.0,368.8 L1182.5,366.0 L1184.0,363.2 L1185.5,360.3 L1187.0,357.7 L1188.5,355.5 L1190.0,354.0 L1190.0,354.0 L1193.0,350.3 L1196.0,347.0 L1199.5,343.8 L1202.9,340.4 L1206.0,338.2 L1209.0,336.2 L1212.4,333.6 L1215.8,331.9 L1218.9,331.3 L1222.0,331.2 L1225.3,330.0 L1228.7,329.9 L1231.8,329.2 L1235.0,329.5 L1238.2,331.0 L1241.5,332.8 L1244.3,334.2 L1247.2,335.5 L1250.0,336.3 L1252.9,337.5 L1255.8,338.3 L1258.7,339.1 L1261.5,338.6 L1264.2,339.8 L1267.0,338.7 L1269.9,339.5 L1272.9,339.0 L1275.8,337.1 L1280.0,337.5 L1282.9,336.5 L1285.8,335.0 L1288.6,332.6 L1291.5,330.6 L1294.4,329.1 L1297.2,328.9 L1300.1,326.3 L1303.0,325.4 L1305.9,323.0 L1308.8,321.9 L1311.6,320.8 L1314.5,317.8 L1317.4,317.5 L1320.2,315.5 L1323.1,314.7 L1326.0,312.9 L1328.9,310.4 L1331.8,309.8 L1334.6,307.4 L1337.5,304.9 L1340.4,303.2 L1343.2,302.3 L1346.1,300.5 L1349.0,298.6 L1351.9,297.2 L1354.8,296.4 L1357.6,295.2 L1360.5,294.8 L1363.0,292.3 L1365.5,292.4 L1368.1,291.4 L1370.6,289.1 L1373.1,288.5 L1373.1,288.5 L1373.8,275.9 L1376.6,274.5 L1377.4,250.0 L1378.2,221.0 L1379.0,220.0 L1379.0,220.5 L1382.9,221.9 L1386.8,223.7 L1390.7,224.5 L1394.1,225.9 L1397.6,227.2 L1401.0,229.2 L1404.4,230.0 L1407.9,231.0 L1411.3,232.3 L1414.4,233.1 L1417.4,233.7 L1420.5,234.7 L1423.6,236.5 L1426.6,236.8 L1429.7,238.5 L1432.8,238.6 L1435.8,239.5 L1438.9,240.7 L1442.0,241.1 L1445.0,242.1 L1448.1,243.5 L1451.2,244.2 L1454.2,244.9 L1457.3,245.4 L1460.4,246.5 L1463.4,247.3 L1466.5,247.6 L1469.6,248.5 L1472.6,248.5 L1475.7,250.1 L1478.7,250.5 L1481.8,251.6 L1484.8,252.3 L1487.9,252.6 L1490.9,253.1 L1494.0,254.9 L1497.1,254.6 L1500.1,255.7 L1503.2,256.3 L1506.3,256.9 L1509.3,258.1 L1512.4,259.1 L1515.5,258.9 L1518.5,260.1 L1521.6,260.4 L1524.7,261.4 L1527.7,261.9 L1530.8,262.3 L1533.9,263.0 L1536.9,263.7 L1540.0,265.3 L1543.6,266.2 L1547.3,267.3 L1550.9,269.5 L1554.6,270.0 L1558.2,269.7 L1561.9,269.8 L1565.2,270.8 L1568.5,271.7 L1571.7,273.0 L1575.0,273.6 L1578.3,274.8 L1581.4,275.6 L1584.5,276.8 L1587.6,277.9 L1590.8,278.5 L1593.9,278.9 L1597.0,279.7 L1600.1,280.6 L1603.1,280.9 L1606.2,281.4 L1609.2,281.5 L1612.3,282.3 L1615.3,283.6 L1618.4,283.1 L1621.4,284.0 L1624.5,284.7 L1627.5,285.4 L1630.6,285.1 L1633.7,285.7 L1636.8,286.1 L1640.0,286.8 L1643.1,287.3 L1646.2,288.4 L1649.3,288.7 L1652.4,289.1 L1655.6,288.5 L1658.7,288.9 L1661.8,290.1 L1664.9,290.7 L1668.1,290.6 L1671.2,291.1 L1674.3,290.7 L1677.5,291.5 L1680.6,292.5 L1683.7,292.6 L1686.8,293.0 L1690.0,293.5 L1693.1,292.9 L1696.2,292.9 L1699.3,293.1 L1702.4,293.8 L1705.5,294.1 L1708.7,294.6 L1711.8,294.5 L1714.9,294.6 L1718.0,294.6" stroke="#1a75ff" stroke-width="2.8"/>
<path d="M1035.5,447.7 L1037.0,445.4 L1038.5,443.5 L1040.0,441.9 L1041.5,440.5 L1043.0,439.3 L1044.5,438.4 L1046.0,437.6 L1047.5,436.9 L1049.1,436.3 L1050.6,435.7 L1052.1,435.2 L1053.6,434.7 L1055.1,434.1 L1056.6,433.6 L1058.1,433.1 L1059.6,432.6 L1061.1,432.1 L1062.6,431.7 L1064.1,431.3 L1065.6,431.0 L1067.1,430.8 L1068.6,430.6 L1070.1,430.4 L1071.6,430.3 L1073.1,430.3 L1074.7,430.2 L1076.2,430.2 L1077.7,430.2 L1079.2,430.1 L1080.7,430.1 L1082.2,430.0 L1083.7,429.9 L1085.2,429.7 L1086.7,429.5 L1088.2,429.2 L1089.7,428.8 L1091.2,428.4 L1092.7,427.9 L1094.2,427.2 L1095.7,426.5 L1097.2,425.6 L1098.7,424.7 L1100.2,423.6 L1101.8,422.5 L1103.3,421.3 L1104.8,420.0 L1106.3,418.7 L1107.8,417.4 L1109.3,416.1 L1110.8,414.8 L1112.3,413.5 L1113.8,412.3 L1115.3,411.1 L1116.8,410.0 L1118.3,408.9 L1119.8,407.8 L1121.3,406.5 L1122.8,404.9 L1124.3,402.8 L1125.8,400.3 L1127.4,397.6 L1128.9,394.9 L1130.4,392.4 L1131.9,390.0 L1133.4,387.6 L1134.9,385.1 L1136.4,382.5 L1137.9,379.7 L1139.4,376.8 L1140.9,373.8 L1142.4,370.7 L1143.9,367.6 L1145.4,364.5 L1146.9,361.4 L1148.4,358.4 L1149.9,355.4 L1151.4,352.5 L1153.0,349.8 L1154.5,347.2 L1156.0,344.8 L1157.5,342.5 L1159.0,340.4 L1160.5,338.6 L1162.0,336.9 L1163.5,335.5 L1165.0,334.3 L1166.5,333.2 L1168.0,332.2 L1169.5,331.3 L1171.0,330.3 L1172.5,329.3 L1174.0,328.3 L1175.5,327.3 L1177.0,326.3 L1178.5,325.3 L1180.1,324.3 L1181.6,323.4 L1183.1,322.4 L1184.6,321.5 L1186.1,320.7 L1187.6,319.8 L1189.1,318.9 L1190.6,317.9 L1192.1,316.8 L1193.6,315.6 L1195.1,314.4 L1196.6,313.2 L1198.1,312.0 L1199.6,310.7 L1201.1,309.5 L1202.6,308.2 L1204.1,307.0 L1205.7,305.9 L1207.2,304.8 L1208.7,303.8 L1210.2,302.9 L1211.7,302.1 L1213.2,301.4 L1214.7,300.9 L1216.2,300.5 L1217.7,300.3 L1219.2,300.2 L1220.7,300.4 L1222.2,300.8 L1223.7,301.4 L1225.2,302.2 L1226.7,303.3 L1228.2,304.7 L1229.7,306.5 L1231.3,308.8 L1232.8,311.4 L1234.3,314.6 L1235.8,318.0 L1237.3,321.4 L1238.8,324.4 L1240.3,327.2 L1241.8,329.6 L1243.3,331.7 L1244.8,333.5 L1246.3,335.0 L1247.8,336.3 L1249.3,337.4 L1250.8,338.1 L1252.3,338.7 L1253.8,339.1 L1255.3,339.2 L1256.8,339.2 L1258.4,339.0 L1259.9,338.6 L1261.4,338.1 L1262.9,337.4 L1264.4,336.6 L1265.9,335.7 L1267.4,334.7 L1268.9,333.6 L1270.4,332.5 L1271.9,331.5 L1273.4,330.4 L1274.9,329.3 L1276.4,328.2 L1277.9,327.0 L1279.4,325.8 L1280.9,324.5 L1282.4,323.0 L1284.0,321.5 L1285.5,319.9 L1287.0,318.2 L1288.5,316.4 L1290.0,314.7 L1291.5,312.9 L1293.0,311.1 L1294.5,309.2 L1296.0,307.4 L1297.5,305.6 L1299.0,303.7 L1300.5,301.9 L1302.0,300.0 L1303.5,298.2 L1305.0,296.3 L1306.5,294.5 L1308.0,292.6 L1309.6,290.8 L1311.1,289.0 L1312.6,287.1 L1314.1,285.3 L1315.6,283.5 L1317.1,281.8 L1318.6,280.0 L1320.1,278.2 L1321.6,276.5 L1323.1,274.8 L1324.6,273.1 L1326.1,271.4 L1327.6,269.8 L1329.1,268.2 L1330.6,266.6 L1332.1,265.1 L1333.6,263.6 L1335.1,262.1 L1336.7,260.6 L1338.2,259.2 L1339.7,257.8 L1341.2,256.5 L1342.7,255.2 L1344.2,253.9 L1345.7,252.7 L1347.2,251.6 L1348.7,250.5 L1350.2,249.4 L1351.7,248.4 L1353.2,247.4 L1354.7,246.5 L1356.2,245.7 L1357.7,244.9 L1359.2,244.1 L1360.7,243.4 L1362.3,242.8 L1363.8,242.2 L1365.3,241.5 L1366.8,240.7 L1368.3,239.7 L1369.8,238.5 L1371.3,237.0 L1372.8,235.0 L1374.3,229.9 L1374.3,229.9 L1375.6,200.0 L1376.6,178.0 L1377.2,120.0 L1377.8,60.0 L1378.0,37.2 L1378.0,37.2 L1380.5,41.4 L1391.4,43.5 L1391.4,43.5 L1392.9,43.9 L1394.4,44.4 L1395.9,44.8 L1397.4,45.2 L1398.9,45.6 L1400.4,46.1 L1401.9,46.5 L1403.4,46.9 L1404.9,47.3 L1406.5,47.7 L1408.0,48.1 L1409.5,48.4 L1411.0,48.8 L1412.5,49.2 L1414.0,49.6 L1415.5,50.0 L1417.0,50.3 L1418.5,50.7 L1420.0,51.1 L1421.5,51.5 L1423.0,51.8 L1424.5,52.2 L1426.0,52.6 L1427.5,52.9 L1429.0,53.3 L1430.5,53.6 L1432.0,54.0 L1433.5,54.4 L1435.0,54.7 L1436.6,55.1 L1438.1,55.4 L1439.6,55.8 L1441.1,56.1 L1442.6,56.5 L1444.1,56.8 L1445.6,57.2 L1447.1,57.5 L1448.6,57.8 L1450.1,58.2 L1451.6,58.5 L1453.1,58.9 L1454.6,59.2 L1456.1,59.5 L1457.6,59.9 L1459.1,60.2 L1460.6,60.5 L1462.1,60.8 L1463.6,61.2 L1465.1,61.5 L1466.7,61.8 L1468.2,62.1 L1469.7,62.4 L1471.2,62.7 L1472.7,63.1 L1474.2,63.4 L1475.7,63.7 L1477.2,64.0 L1478.7,64.3 L1480.2,64.6 L1481.7,64.9 L1483.2,65.2 L1484.7,65.5 L1486.2,65.8 L1487.7,66.1 L1489.2,66.3 L1490.7,66.6 L1492.2,66.9 L1493.7,67.2 L1495.2,67.4 L1496.8,67.7 L1498.3,67.9 L1499.8,68.2 L1501.3,68.4 L1502.8,68.7 L1504.3,68.9 L1505.8,69.1 L1507.3,69.3 L1508.8,69.5 L1510.3,69.7 L1511.8,69.9 L1513.3,70.1 L1514.8,70.3 L1516.3,70.5 L1517.8,70.7 L1519.3,70.8 L1520.8,71.0 L1522.3,71.2 L1523.8,71.4 L1525.4,71.6 L1526.9,71.8 L1528.4,72.0 L1529.9,72.2 L1531.4,72.4 L1532.9,72.7 L1534.4,72.9 L1535.9,73.2 L1537.4,73.4 L1538.9,73.7 L1540.4,74.0 L1541.9,74.3 L1543.4,74.7 L1544.9,75.0 L1546.4,75.4 L1547.9,75.7 L1549.4,76.1 L1550.9,76.5 L1552.4,76.9 L1553.9,77.2 L1555.5,77.6 L1557.0,78.0 L1558.5,78.3 L1560.0,78.7 L1561.5,79.1 L1563.0,79.4 L1564.5,79.7 L1566.0,80.0 L1567.5,80.3 L1569.0,80.6 L1570.5,80.8 L1572.0,81.1 L1573.5,81.3 L1575.0,81.5 L1576.5,81.7 L1578.0,81.9 L1579.5,82.1 L1581.0,82.2 L1582.5,82.3 L1584.0,82.4 L1585.6,82.5 L1587.1,82.6 L1588.6,82.7 L1590.1,82.7 L1591.6,82.8 L1593.1,82.8 L1594.6,82.8 L1596.1,82.9 L1597.6,82.9 L1599.1,82.9 L1600.6,82.9 L1602.1,82.9 L1603.6,82.9 L1605.1,82.9 L1606.6,82.9 L1608.1,82.9 L1609.6,82.9 L1611.1,82.9 L1612.6,83.0 L1614.2,83.0 L1615.7,83.1 L1617.2,83.1 L1618.7,83.2 L1620.2,83.2 L1621.7,83.3 L1623.2,83.4 L1624.7,83.5 L1626.2,83.6 L1627.7,83.6 L1629.2,83.7 L1630.7,83.8 L1632.2,83.9 L1633.7,84.0 L1635.2,84.1 L1636.7,84.2 L1638.2,84.4 L1639.7,84.5 L1641.2,84.5 L1642.7,84.6 L1644.3,84.7 L1645.8,84.8 L1647.3,84.8 L1648.8,84.8 L1650.3,84.8 L1651.8,84.7 L1653.3,84.7 L1654.8,84.5 L1656.3,84.4 L1657.8,84.2 L1659.3,84.1 L1660.8,83.9 L1662.3,83.6 L1663.8,83.4 L1665.3,83.1 L1666.8,82.9 L1668.3,82.6 L1669.8,82.3 L1671.3,82.0 L1672.8,81.7 L1674.4,81.4 L1675.9,81.1 L1677.4,80.8 L1678.9,80.6 L1680.4,80.3 L1681.9,80.0 L1683.4,79.7 L1684.9,79.5 L1686.4,79.3 L1687.9,79.1 L1689.4,78.9 L1690.9,78.7 L1692.4,78.5 L1693.9,78.3 L1695.4,78.1 L1696.9,78.0 L1698.4,77.8 L1699.9,77.6 L1701.4,77.3 L1702.9,77.1 L1704.5,76.8 L1706.0,76.5 L1707.5,76.2 L1709.0,75.8 L1710.5,75.4 L1712.0,74.9 L1713.5,74.4 L1715.0,73.8 L1716.5,73.2 L1718.0,72.5" stroke="#0ca00c" stroke-width="2.8"/>
</g>
<g stroke="#000" fill="none">
<rect x="1033.6" y="23" width="685.2" height="524.4" stroke-width="3.8"/>
<path d="M1033.5,547.4 V541.0 M1054.9,547.4 V544.2 M1076.3,547.4 V541.0 M1097.7,547.4 V544.2 M1119.1,547.4 V541.0 M1140.5,547.4 V544.2 M1161.9,547.4 V541.0 M1183.3,547.4 V544.2 M1204.7,547.4 V541.0 M1226.1,547.4 V544.2 M1247.5,547.4 V541.0 M1268.9,547.4 V544.2 M1290.3,547.4 V541.0 M1311.6,547.4 V544.2 M1333.0,547.4 V541.0 M1354.4,547.4 V544.2 M1375.8,547.4 V541.0 M1397.2,547.4 V544.2 M1418.6,547.4 V541.0 M1440.0,547.4 V544.2 M1461.4,547.4 V541.0 M1482.8,547.4 V544.2 M1504.2,547.4 V541.0 M1525.6,547.4 V544.2 M1547.0,547.4 V541.0 M1568.4,547.4 V544.2 M1589.8,547.4 V541.0 M1611.2,547.4 V544.2 M1632.6,547.4 V541.0 M1654.0,547.4 V544.2 M1675.4,547.4 V541.0 M1696.8,547.4 V544.2 M1718.2,547.4 V541.0 M1033.6,525.7 H1038.0 M1033.6,503.8 H1041.0 M1033.6,481.9 H1038.0 M1033.6,460.0 H1041.0 M1033.6,438.1 H1038.0 M1033.6,416.2 H1041.0 M1033.6,394.3 H1038.0 M1033.6,372.4 H1041.0 M1033.6,350.5 H1038.0 M1033.6,328.6 H1041.0 M1033.6,306.7 H1038.0 M1033.6,284.8 H1041.0 M1033.6,262.9 H1038.0 M1033.6,241.0 H1041.0 M1033.6,219.1 H1038.0 M1033.6,197.2 H1041.0 M1033.6,175.3 H1038.0 M1033.6,153.4 H1041.0 M1033.6,131.5 H1038.0 M1033.6,109.6 H1041.0 M1033.6,87.7 H1038.0 M1033.6,65.8 H1041.0 M1033.6,43.9 H1038.0" stroke-width="3"/>
</g>
<text transform="translate(1024.80,29.30) scale(1.000,1.070)" font-size="23" font-weight="bold" text-anchor="end" fill="#000" >0.50</text>
<text transform="translate(1024.80,73.10) scale(1.000,1.070)" font-size="23" font-weight="bold" text-anchor="end" fill="#000" >0.45</text>
<text transform="translate(1024.80,116.90) scale(1.000,1.070)" font-size="23" font-weight="bold" text-anchor="end" fill="#000" >0.40</text>
<text transform="translate(1024.80,160.70) scale(1.000,1.070)" font-size="23" font-weight="bold" text-anchor="end" fill="#000" >0.35</text>
<text transform="translate(1024.80,204.50) scale(1.000,1.070)" font-size="23" font-weight="bold" text-anchor="end" fill="#000" >0.30</text>
<text transform="translate(1024.80,248.30) scale(1.000,1.070)" font-size="23" font-weight="bold" text-anchor="end" fill="#000" >0.25</text>
<text transform="translate(1024.80,292.10) scale(1.000,1.070)" font-size="23" font-weight="bold" text-anchor="end" fill="#000" >0.20</text>
<text transform="translate(1024.80,335.90) scale(1.000,1.070)" font-size="23" font-weight="bold" text-anchor="end" fill="#000" >0.15</text>
<text transform="translate(1024.80,379.70) scale(1.000,1.070)" font-size="23" font-weight="bold" text-anchor="end" fill="#000" >0.10</text>
<text transform="translate(1024.80,423.50) scale(1.000,1.070)" font-size="23" font-weight="bold" text-anchor="end" fill="#000" >0.05</text>
<text transform="translate(1024.80,467.30) scale(1.000,1.070)" font-size="23" font-weight="bold" text-anchor="end" fill="#000" >0.00</text>
<text transform="translate(1024.80,511.10) scale(1.000,1.070)" font-size="23" font-weight="bold" text-anchor="end" fill="#000" >−0.05</text>
<text transform="translate(1024.80,544.80) scale(1.000,1.070)" font-size="23" font-weight="bold" text-anchor="end" fill="#000" >−0.10</text>
<text transform="translate(1033.50,573.00) scale(1.000,1.090)" font-size="22.5" font-weight="bold" text-anchor="middle" fill="#000" >20</text>
<text transform="translate(1076.29,573.00) scale(1.000,1.090)" font-size="22.5" font-weight="bold" text-anchor="middle" fill="#000" >40</text>
<text transform="translate(1119.08,573.00) scale(1.000,1.090)" font-size="22.5" font-weight="bold" text-anchor="middle" fill="#000" >60</text>
<text transform="translate(1161.88,573.00) scale(1.000,1.090)" font-size="22.5" font-weight="bold" text-anchor="middle" fill="#000" >80</text>
<text transform="translate(1204.67,573.00) scale(1.000,1.090)" font-size="22.5" font-weight="bold" text-anchor="middle" fill="#000" >100</text>
<text transform="translate(1247.46,573.00) scale(1.000,1.090)" font-size="22.5" font-weight="bold" text-anchor="middle" fill="#000" >120</text>
<text transform="translate(1290.25,573.00) scale(1.000,1.090)" font-size="22.5" font-weight="bold" text-anchor="middle" fill="#000" >140</text>
<text transform="translate(1333.04,573.00) scale(1.000,1.090)" font-size="22.5" font-weight="bold" text-anchor="middle" fill="#000" >160</text>
<text transform="translate(1375.84,573.00) scale(1.000,1.090)" font-size="22.5" font-weight="bold" text-anchor="middle" fill="#000" >180</text>
<text transform="translate(1418.63,573.00) scale(1.000,1.090)" font-size="22.5" font-weight="bold" text-anchor="middle" fill="#000" >160</text>
<text transform="translate(1461.42,573.00) scale(1.000,1.090)" font-size="22.5" font-weight="bold" text-anchor="middle" fill="#000" >140</text>
<text transform="translate(1504.21,573.00) scale(1.000,1.090)" font-size="22.5" font-weight="bold" text-anchor="middle" fill="#000" >120</text>
<text transform="translate(1547.00,573.00) scale(1.000,1.090)" font-size="22.5" font-weight="bold" text-anchor="middle" fill="#000" >100</text>
<text transform="translate(1589.80,573.00) scale(1.000,1.090)" font-size="22.5" font-weight="bold" text-anchor="middle" fill="#000" >80</text>
<text transform="translate(1632.59,573.00) scale(1.000,1.090)" font-size="22.5" font-weight="bold" text-anchor="middle" fill="#000" >60</text>
<text transform="translate(1675.38,573.00) scale(1.000,1.090)" font-size="22.5" font-weight="bold" text-anchor="middle" fill="#000" >40</text>
<text transform="translate(1718.17,573.00) scale(1.000,1.090)" font-size="22.5" font-weight="bold" text-anchor="middle" fill="#000" >20</text>
<text transform="translate(1388.50,627.00)" font-size="40.3" font-weight="bold" text-anchor="middle" fill="#000" >Temperature (°C)</text>
<g transform="translate(960.9,351.2) rotate(-90)">
<text class="tri" transform="translate(0.00,-3.50) scale(1.000,0.920)" font-size="31.3" font-weight="bold" text-anchor="start" fill="#000" stroke="#000" stroke-width="0.4">△</text>
<text transform="translate(26.70,0.00)" font-size="40.5" font-weight="bold" text-anchor="start" fill="#000" >R/R</text>
<text transform="translate(96.60,4.30)" font-size="40" font-weight="bold" text-anchor="start" fill="#000" >0</text>
</g>
<text transform="translate(1049.30,96.80) scale(0.950,0.985)" font-size="55.5" font-weight="normal" text-anchor="start" fill="#000" stroke="#000" stroke-width="0.8">(<tspan dx="-1.5" stroke-width="1.1">b</tspan><tspan dx="1.2">)</tspan></text>
<line x1="1125.6" y1="55.7" x2="1172.2" y2="55.7" stroke="#3a3a3a" stroke-width="3"/>
<text class="tri" transform="translate(1177.90,61.00)" font-size="16.3" font-weight="bold" text-anchor="start" fill="#111" stroke="#111" stroke-width="0.5">△</text>
<text transform="translate(1190.00,63.00) scale(1.150,1.000)" font-size="18.6" font-weight="bold" text-anchor="start" fill="#111" >R/R</text>
<text transform="translate(1227.10,67.00) scale(1.150,1.000)" font-size="16.7" font-weight="bold" text-anchor="start" fill="#111" >0</text>
<text transform="translate(1243.70,63.00) scale(1.074,1.000)" font-size="18.6" font-weight="bold" text-anchor="start" fill="#111" >of 30wt%</text>
<line x1="1125.6" y1="93.9" x2="1172.2" y2="93.9" stroke="#ff4040" stroke-width="3"/>
<text class="tri" transform="translate(1177.90,99.20)" font-size="16.3" font-weight="bold" text-anchor="start" fill="#111" stroke="#111" stroke-width="0.5">△</text>
<text transform="translate(1190.00,101.20) scale(1.150,1.000)" font-size="18.6" font-weight="bold" text-anchor="start" fill="#111" >R/R</text>
<text transform="translate(1227.10,105.20) scale(1.150,1.000)" font-size="16.7" font-weight="bold" text-anchor="start" fill="#111" >0</text>
<text transform="translate(1243.70,101.20) scale(1.074,1.000)" font-size="18.6" font-weight="bold" text-anchor="start" fill="#111" >of 50wt%</text>
<line x1="1125.6" y1="132.1" x2="1172.2" y2="132.1" stroke="#1a75ff" stroke-width="3"/>
<text class="tri" transform="translate(1177.90,137.40)" font-size="16.3" font-weight="bold" text-anchor="start" fill="#111" stroke="#111" stroke-width="0.5">△</text>
<text transform="translate(1190.00,139.40) scale(1.150,1.000)" font-size="18.6" font-weight="bold" text-anchor="start" fill="#111" >R/R</text>
<text transform="translate(1227.10,143.40) scale(1.150,1.000)" font-size="16.7" font-weight="bold" text-anchor="start" fill="#111" >0</text>
<text transform="translate(1243.70,139.40) scale(1.074,1.000)" font-size="18.6" font-weight="bold" text-anchor="start" fill="#111" >of 70wt%</text>
<line x1="1125.6" y1="170.3" x2="1172.2" y2="170.3" stroke="#0ca00c" stroke-width="3"/>
<text class="tri" transform="translate(1177.90,175.60)" font-size="16.3" font-weight="bold" text-anchor="start" fill="#111" stroke="#111" stroke-width="0.5">△</text>
<text transform="translate(1190.00,177.60) scale(1.150,1.000)" font-size="18.6" font-weight="bold" text-anchor="start" fill="#111" >R/R</text>
<text transform="translate(1227.10,181.60) scale(1.150,1.000)" font-size="16.7" font-weight="bold" text-anchor="start" fill="#111" >0</text>
<text transform="translate(1243.70,177.60) scale(1.074,1.000)" font-size="18.6" font-weight="bold" text-anchor="start" fill="#111" >of 90wt%</text>
<text transform="translate(1117.40,250.80)" font-size="23.7" font-weight="bold" text-anchor="start" fill="#ec1780" >Heating stage</text>
<line x1="1128" y1="263.5" x2="1254" y2="263.5" stroke="#f59ac4" stroke-width="1.3"/>
<path d="M1251.5,261.6 L1260.8,264 L1251.5,266.4 Z" fill="#ec1780"/>
<text transform="translate(1494.00,228.20)" font-size="23.6" font-weight="bold" text-anchor="start" fill="#0f6e0f" >Cooling stage</text>
<line x1="1504" y1="240" x2="1629" y2="240" stroke="#d5e8d5" stroke-width="2"/>
<path d="M1627.5,237.6 L1636,240 L1627.5,242.4 Z" fill="#0f6e0f"/>
</svg></body></html>
